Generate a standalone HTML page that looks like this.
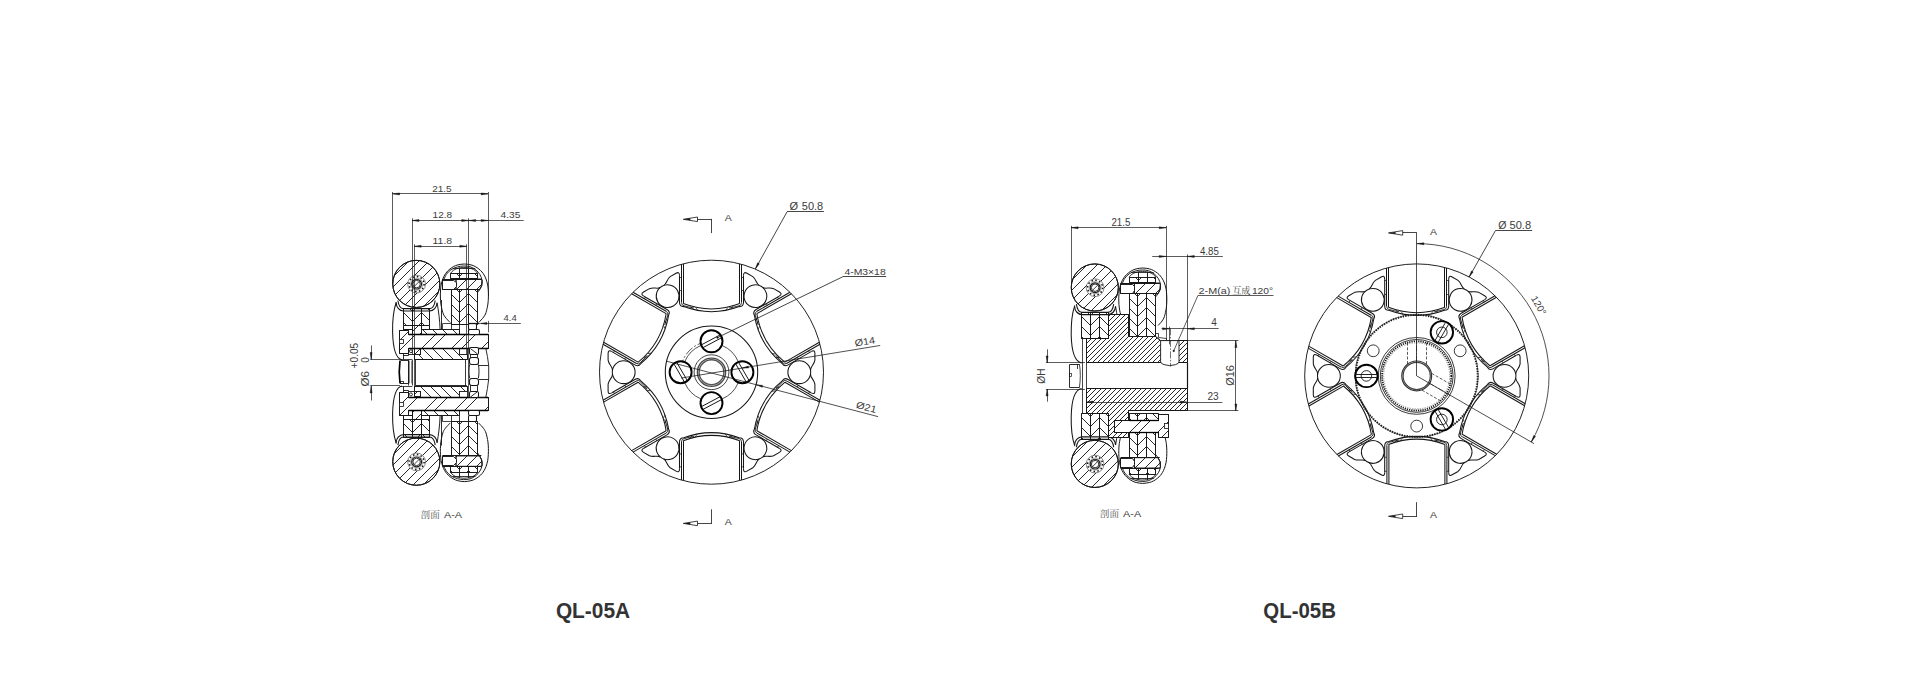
<!DOCTYPE html>
<html lang="zh"><head><meta charset="utf-8"><title>QL-05A / QL-05B</title>
<style>html,body{margin:0;padding:0;background:#fff}body{width:1920px;height:694px;overflow:hidden}svg{display:block}</style>
</head><body>
<svg width="1920" height="694" viewBox="0 0 1920 694">
<rect width="1920" height="694" fill="#fff"/>
<defs><clipPath id="c1"><path d="M403.5 308.5L412.5 308.5L412.5 325.5L403.5 325.5Z"/></clipPath><clipPath id="c2"><path d="M412.5 308.5L421.5 308.5L421.5 325.5L412.5 325.5Z"/></clipPath><clipPath id="c3"><path d="M421.5 308.5L429.5 308.5L429.5 325.5L421.5 325.5Z"/></clipPath><clipPath id="c4"><path d="M412.5 325.5L421.5 325.5L421.5 334.5L412.5 334.5Z"/></clipPath><clipPath id="c5"><path d="M392.75 283.9A23.55 23.55 0 1 0 439.85 283.9A23.55 23.55 0 1 0 392.75 283.9Z"/></clipPath><clipPath id="c6"><path d="M421.5 329.5L459.5 329.5L459.5 334.5L421.5 334.5Z"/></clipPath><clipPath id="c7"><path d="M420.5 348.5L459.5 348.5L459.5 354.5L467.5 354.5L467.5 359.5L414.5 359.5L414.5 354.5L420.5 354.5Z"/></clipPath><clipPath id="c8"><path d="M414.5 348.5L420.5 348.5L420.5 354.5L414.5 354.5Z"/></clipPath><clipPath id="c9"><path d="M399.5 330.5L408.5 330.5L408.5 334.5L488.5 334.5L488.5 348.5L408.5 348.5L408.5 353.5L399.5 353.5Z"/></clipPath><clipPath id="c10"><path d="M450.5 273.5L459.5 273.5L459.5 278.5L450.5 278.5Z"/></clipPath><clipPath id="c11"><path d="M459.5 273.5L468.5 273.5L468.5 278.5L459.5 278.5Z"/></clipPath><clipPath id="c12"><path d="M468.5 273.5L477.5 273.5L477.5 278.5L468.5 278.5Z"/></clipPath><clipPath id="c13"><path d="M456 279.2L481.5 279.2L482 280.8L481.6 285.7L479.5 289.8L456 289.8Z"/></clipPath><clipPath id="c14"><path d="M451.5 289.5L459.5 289.5L459.5 324.5L451.5 324.5Z"/></clipPath><clipPath id="c15"><path d="M459.5 289.5L468.5 289.5L468.5 324.5L459.5 324.5Z"/></clipPath><clipPath id="c16"><path d="M468.5 289.5L477.5 289.5L477.5 324.5L468.5 324.5Z"/></clipPath><clipPath id="c17"><path d="M403.5 419.5L412.5 419.5L412.5 437.5L403.5 437.5Z"/></clipPath><clipPath id="c18"><path d="M412.5 419.5L421.5 419.5L421.5 437.5L412.5 437.5Z"/></clipPath><clipPath id="c19"><path d="M421.5 419.5L429.5 419.5L429.5 437.5L421.5 437.5Z"/></clipPath><clipPath id="c20"><path d="M412.5 419.5L421.5 419.5L421.5 410.5L412.5 410.5Z"/></clipPath><clipPath id="c21"><path d="M392.75 461.7A23.55 23.55 0 1 0 439.85 461.7A23.55 23.55 0 1 0 392.75 461.7Z"/></clipPath><clipPath id="c22"><path d="M421.5 415.5L459.5 415.5L459.5 410.5L421.5 410.5Z"/></clipPath><clipPath id="c23"><path d="M420.5 397.5L459.5 397.5L459.5 391.5L467.5 391.5L467.5 386.5L414.5 386.5L414.5 391.5L420.5 391.5Z"/></clipPath><clipPath id="c24"><path d="M414.5 396.5L420.5 396.5L420.5 391.5L414.5 391.5Z"/></clipPath><clipPath id="c25"><path d="M399.5 415.5L408.5 415.5L408.5 410.5L488.5 410.5L488.5 397.5L408.5 397.5L408.5 392.5L399.5 392.5Z"/></clipPath><clipPath id="c26"><path d="M450.5 466.5L459.5 466.5L459.5 472.5L450.5 472.5Z"/></clipPath><clipPath id="c27"><path d="M459.5 466.5L468.5 466.5L468.5 472.5L459.5 472.5Z"/></clipPath><clipPath id="c28"><path d="M468.5 466.5L477.5 466.5L477.5 472.5L468.5 472.5Z"/></clipPath><clipPath id="c29"><path d="M456 466.4L481.5 466.4L482 464.8L481.6 459.9L479.5 455.8L456 455.8Z"/></clipPath><clipPath id="c30"><path d="M451.5 421.5L459.5 421.5L459.5 455.5L451.5 455.5Z"/></clipPath><clipPath id="c31"><path d="M459.5 421.5L468.5 421.5L468.5 455.5L459.5 455.5Z"/></clipPath><clipPath id="c32"><path d="M468.5 421.5L477.5 421.5L477.5 455.5L468.5 455.5Z"/></clipPath><clipPath id="c33"><path d="M1081.5 312.5L1090.5 312.5L1090.5 338.5L1081.5 338.5Z"/></clipPath><clipPath id="c34"><path d="M1090.5 312.5L1099.5 312.5L1099.5 338.5L1090.5 338.5Z"/></clipPath><clipPath id="c35"><path d="M1099.5 312.5L1108.5 312.5L1108.5 338.5L1099.5 338.5Z"/></clipPath><clipPath id="c36"><path d="M1071.25 287.5A23.55 23.55 0 1 0 1118.35 287.5A23.55 23.55 0 1 0 1071.25 287.5Z"/></clipPath><clipPath id="c37"><path d="M1081.5 413.5L1090.5 413.5L1090.5 439.5L1081.5 439.5Z"/></clipPath><clipPath id="c38"><path d="M1090.5 413.5L1099.5 413.5L1099.5 439.5L1090.5 439.5Z"/></clipPath><clipPath id="c39"><path d="M1099.5 413.5L1108.5 413.5L1108.5 439.5L1099.5 439.5Z"/></clipPath><clipPath id="c40"><path d="M1071.25 463.9A23.55 23.55 0 1 0 1118.35 463.9A23.55 23.55 0 1 0 1071.25 463.9Z"/></clipPath><clipPath id="c41"><path d="M1129.5 277.5L1138.5 277.5L1138.5 282.5L1129.5 282.5Z"/></clipPath><clipPath id="c42"><path d="M1138.5 277.5L1147.5 277.5L1147.5 282.5L1138.5 282.5Z"/></clipPath><clipPath id="c43"><path d="M1147.5 277.5L1155.5 277.5L1155.5 282.5L1147.5 282.5Z"/></clipPath><clipPath id="c44"><path d="M1134.4 283.2L1159.9 283.2L1160.4 284.8L1160 289.7L1157.9 293.8L1134.4 293.8Z"/></clipPath><clipPath id="c45"><path d="M1129.5 468.5L1138.5 468.5L1138.5 474.5L1129.5 474.5Z"/></clipPath><clipPath id="c46"><path d="M1138.5 468.5L1147.5 468.5L1147.5 474.5L1138.5 474.5Z"/></clipPath><clipPath id="c47"><path d="M1147.5 468.5L1155.5 468.5L1155.5 474.5L1147.5 474.5Z"/></clipPath><clipPath id="c48"><path d="M1134.4 468.2L1159.9 468.2L1160.4 466.6L1160 461.7L1157.9 457.6L1134.4 457.6Z"/></clipPath><clipPath id="c49"><path d="M1086.5 362.5L1086.5 338.5L1108.5 338.5L1108.5 314.5L1128.5 314.5L1128.5 336.5L1155.5 336.5L1160.5 340.5L1187.5 340.5L1187.5 362.5Z"/></clipPath><clipPath id="c50"><path d="M1086.5 388.5L1086.5 413.5L1108.5 413.5L1108.5 437.5L1128.5 437.5L1128.5 410.5L1187.5 410.5L1187.5 388.5Z"/></clipPath><clipPath id="c51"><path d="M1129.5 293.5L1137.5 293.5L1137.5 336.5L1129.5 336.5Z"/></clipPath><clipPath id="c52"><path d="M1137.5 293.5L1146.5 293.5L1146.5 336.5L1137.5 336.5Z"/></clipPath><clipPath id="c53"><path d="M1146.5 293.5L1155.5 293.5L1155.5 336.5L1146.5 336.5Z"/></clipPath><clipPath id="c54"><path d="M1129.5 432.5L1137.5 432.5L1137.5 457.5L1129.5 457.5Z"/></clipPath><clipPath id="c55"><path d="M1137.5 432.5L1146.5 432.5L1146.5 457.5L1137.5 457.5Z"/></clipPath><clipPath id="c56"><path d="M1146.5 432.5L1155.5 432.5L1155.5 457.5L1146.5 457.5Z"/></clipPath><clipPath id="c57"><path d="M1129.5 413.5L1137.5 413.5L1137.5 420.5L1129.5 420.5Z"/></clipPath><clipPath id="c58"><path d="M1137.5 413.5L1146.5 413.5L1146.5 420.5L1137.5 420.5Z"/></clipPath><clipPath id="c59"><path d="M1146.5 413.5L1158.5 413.5L1158.5 420.5L1146.5 420.5Z"/></clipPath><clipPath id="c60"><path d="M1114.5 420.5L1158.5 420.5L1158.5 414.5L1168.5 414.5L1168.5 437.5L1158.5 437.5L1158.5 432.5L1114.5 432.5Z"/></clipPath></defs>
<path d="M396.3 302C393.6 310 392.4 322 392.6 332C392.9 345 395 358.5 402 359.7" fill="none" stroke="#161616" stroke-width="1.05"/>
<path d="M403.5 308.5L412.5 308.5L412.5 325.5L403.5 325.5Z" fill="#fff" stroke="#161616" stroke-width="0.85"/>
<path clip-path="url(#c1)" d="M402.5 301.5L413.5 312.5M402.5 311.5L413.5 322.5M402.5 321.5L413.5 332.5" fill="none" stroke="#161616" stroke-width="0.92"/>
<path d="M403.5 308.5L412.5 308.5L412.5 325.5L403.5 325.5Z" fill="none" stroke="#161616" stroke-width="0.85"/>
<path d="M412.5 308.5L421.5 308.5L421.5 325.5L412.5 325.5Z" fill="#fff" stroke="#161616" stroke-width="0.85"/>
<path clip-path="url(#c2)" d="M411.5 312.5L422.5 301.5M411.5 322.5L422.5 311.5M411.5 332.5L422.5 321.5" fill="none" stroke="#161616" stroke-width="0.92"/>
<path d="M412.5 308.5L421.5 308.5L421.5 325.5L412.5 325.5Z" fill="none" stroke="#161616" stroke-width="0.85"/>
<path d="M421.5 308.5L429.5 308.5L429.5 325.5L421.5 325.5Z" fill="#fff" stroke="#161616" stroke-width="0.85"/>
<path clip-path="url(#c3)" d="M420.5 301.5L430.5 311.5M420.5 311.5L430.5 321.5M420.5 321.5L430.5 331.5" fill="none" stroke="#161616" stroke-width="0.92"/>
<path d="M421.5 308.5L429.5 308.5L429.5 325.5L421.5 325.5Z" fill="none" stroke="#161616" stroke-width="0.85"/>
<path d="M412.5 325.5L421.5 325.5L421.5 334.5L412.5 334.5Z" fill="#fff" stroke="#161616" stroke-width="0.95"/>
<path clip-path="url(#c4)" d="M411.5 332.5L422.5 321.5M411.5 342.5L422.5 331.5" fill="none" stroke="#161616" stroke-width="0.92"/>
<path d="M412.5 325.5L421.5 325.5L421.5 334.5L412.5 334.5Z" fill="none" stroke="#161616" stroke-width="0.95"/>
<line x1="403.2" y1="329.5" x2="412.2" y2="329.5" stroke="#161616" stroke-width="1.05"/>
<line x1="421.3" y1="329.5" x2="429.5" y2="329.5" stroke="#161616" stroke-width="1.05"/>
<line x1="403.5" y1="325.8" x2="403.5" y2="329.8" stroke="#161616" stroke-width="1.05"/>
<line x1="429.5" y1="325.8" x2="429.5" y2="329.8" stroke="#161616" stroke-width="1.05"/>
<path d="M396.1 302.8C396.3 307.5 399.5 311 403.6 311L429.5 311C433.5 311 436.8 307.5 437.1 302.8" fill="none" stroke="#161616" stroke-width="1.15"/>
<path d="M397.9 300.5C398.5 304.9 400.5 308.6 403.4 308.6L429.5 308.6C432.5 308.6 434.6 304.9 435.2 300.5" fill="none" stroke="#161616" stroke-width="1.1"/>
<path d="M437.1 302.8C438.5 310.9 439.8 319.9 440.1 329.8" fill="none" stroke="#161616" stroke-width="0.95"/>
<path d="M392.75 283.9A23.55 23.55 0 1 0 439.85 283.9A23.55 23.55 0 1 0 392.75 283.9Z" fill="#fff" stroke="#161616" stroke-width="1.0"/>
<path clip-path="url(#c5)" d="M391.75 268.25L440.85 219.15M391.75 278.25L440.85 229.15M391.75 288.25L440.85 239.15M391.75 298.25L440.85 249.15M391.75 308.25L440.85 259.15M391.75 318.25L440.85 269.15M391.75 328.25L440.85 279.15M391.75 338.25L440.85 289.15M391.75 348.25L440.85 299.15" fill="none" stroke="#161616" stroke-width="0.92"/>
<path d="M392.75 283.9A23.55 23.55 0 1 0 439.85 283.9A23.55 23.55 0 1 0 392.75 283.9Z" fill="none" stroke="#161616" stroke-width="1.0"/>
<circle cx="416.6" cy="284.1" r="8.9" fill="#fff" stroke="#333" stroke-width="0.55"/>
<circle cx="416.6" cy="284.1" r="7.5" fill="none" stroke="#111" stroke-width="1.5" stroke-dasharray="1.5 2.427"/>
<circle cx="416.6" cy="284.1" r="6.1" fill="none" stroke="#555" stroke-width="0.5"/>
<circle cx="416.6" cy="284.1" r="4.9" fill="#fff" stroke="#161616" stroke-width="1.15"/>
<circle cx="416.6" cy="284.1" r="3.7" fill="none" stroke="#161616" stroke-width="0.9"/>
<line x1="414.2" y1="286.5" x2="419" y2="281.7" stroke="#161616" stroke-width="0.8"/>
<path d="M421.5 329.5L459.5 329.5L459.5 334.5L421.5 334.5Z" fill="#fff" stroke="#161616" stroke-width="0.85"/>
<path clip-path="url(#c6)" d="M420.5 297.5L460.5 337.5M420.5 307.5L460.5 347.5M420.5 317.5L460.5 357.5M420.5 327.5L460.5 367.5" fill="none" stroke="#161616" stroke-width="0.92"/>
<path d="M421.5 329.5L459.5 329.5L459.5 334.5L421.5 334.5Z" fill="none" stroke="#161616" stroke-width="0.85"/>
<path d="M420.5 348.5L459.5 348.5L459.5 354.5L467.5 354.5L467.5 359.5L414.5 359.5L414.5 354.5L420.5 354.5Z" fill="#fff" stroke="#161616" stroke-width="0.85"/>
<path clip-path="url(#c7)" d="M413.5 299.5L468.5 354.5M413.5 309.5L468.5 364.5M413.5 319.5L468.5 374.5M413.5 329.5L468.5 384.5M413.5 339.5L468.5 394.5M413.5 349.5L468.5 404.5M413.5 359.5L468.5 414.5" fill="none" stroke="#161616" stroke-width="0.92"/>
<path d="M420.5 348.5L459.5 348.5L459.5 354.5L467.5 354.5L467.5 359.5L414.5 359.5L414.5 354.5L420.5 354.5Z" fill="none" stroke="#161616" stroke-width="0.85"/>
<path d="M414.5 348.5L420.5 348.5L420.5 354.5L414.5 354.5Z" fill="#fff" stroke="#161616" stroke-width="0.8"/>
<path clip-path="url(#c8)" d="M413.5 355.5L421.5 347.5" fill="none" stroke="#161616" stroke-width="0.92"/>
<path d="M414.5 348.5L420.5 348.5L420.5 354.5L414.5 354.5Z" fill="none" stroke="#161616" stroke-width="0.8"/>
<path d="M408.5 348.5L414.5 348.5L414.5 354.5L408.5 354.5Z" fill="#fff" stroke="#161616" stroke-width="0.9"/>
<circle cx="410.9" cy="351.2" r="1.5" fill="none" stroke="#161616" stroke-width="0.9"/>
<rect x="459.5" y="348.5" width="8" height="6" fill="#fff" stroke="#161616" stroke-width="0.85"/>
<path d="M399.5 330.5L408.5 330.5L408.5 334.5L488.5 334.5L488.5 348.5L408.5 348.5L408.5 353.5L399.5 353.5Z" fill="#fff" stroke="#161616" stroke-width="0.9"/>
<path clip-path="url(#c9)" d="M398.5 341.5L489.5 250.5M398.5 351.5L489.5 260.5M398.5 371.5L489.5 280.5M398.5 381.5L489.5 290.5M398.5 401.5L489.5 310.5M398.5 411.5L489.5 320.5M398.5 431.5L489.5 340.5M398.5 441.5L489.5 350.5" fill="none" stroke="#161616" stroke-width="0.92"/>
<path d="M399.5 330.5L408.5 330.5L408.5 334.5L488.5 334.5L488.5 348.5L408.5 348.5L408.5 353.5L399.5 353.5Z" fill="none" stroke="#161616" stroke-width="0.9"/>
<line x1="408.7" y1="334.5" x2="488.2" y2="334.5" stroke="#000" stroke-width="1.5"/>
<line x1="408.7" y1="348.5" x2="488.2" y2="348.5" stroke="#000" stroke-width="1.5"/>
<rect x="399.5" y="339.5" width="4" height="4" fill="#fff" stroke="#161616" stroke-width="0.8"/>
<path d="M403.5 353.5L403.5 359.5" fill="none" stroke="#161616" stroke-width="0.9"/>
<path d="M403.5 355.5L408.5 355.5L408.5 353.5" fill="none" stroke="#161616" stroke-width="0.9"/>
<line x1="400" y1="359.5" x2="412.2" y2="359.5" stroke="#161616" stroke-width="0.8"/>
<path d="M450.1 322.5C449.7 322.08 448.53 320.92 447.7 320C446.87 319.08 445.92 318.23 445.1 317C444.28 315.77 443.5 314.77 442.8 312.6C442.1 310.43 441.3 306.6 440.9 304C440.5 301.4 440.47 299.17 440.4 297C440.33 294.83 440.38 293 440.5 291C440.62 289 440.72 287 441.1 285C441.48 283 442.2 280.67 442.8 279C443.4 277.33 444.03 276.17 444.7 275C445.37 273.83 445.93 273 446.8 272C447.67 271 448.75 269.92 449.9 269C451.05 268.08 452.38 267.18 453.7 266.5C455.02 265.82 456.03 265.32 457.8 264.9C459.57 264.48 462.1 264 464.3 264C466.5 264 469.2 264.48 471 264.9C472.8 265.32 473.78 265.82 475.1 266.5C476.42 267.18 477.75 268.08 478.9 269C480.05 269.92 481.13 271 482 272C482.87 273 483.43 273.83 484.1 275C484.77 276.17 485.4 277.33 486 279C486.6 280.67 487.32 283 487.7 285C488.08 287 488.18 289 488.3 291C488.42 293 488.47 294.83 488.4 297C488.33 299.17 488.3 301.4 487.9 304C487.5 306.6 486.7 310.43 486 312.6C485.3 314.77 484.52 315.77 483.7 317C482.88 318.23 481.93 319.08 481.1 320C480.27 320.92 479.1 322.08 478.7 322.5" fill="none" stroke="#161616" stroke-width="1.0"/>
<path d="M444.1 279C444.5 278.2 445.35 275.75 446.5 274.2C447.65 272.65 449.17 270.92 451 269.7C452.83 268.48 455.38 267.52 457.5 266.9C459.62 266.28 461.62 266.03 463.7 266C465.78 265.97 467.98 266.05 470 266.7C472.02 267.35 474.13 268.57 475.8 269.9C477.47 271.23 478.97 272.98 480 274.7C481.03 276.42 481.73 278.37 482 280.2C482.27 282.03 482.07 284.03 481.6 285.7C481.13 287.37 479.87 289.05 479.2 290.2C478.53 291.35 477.87 292.2 477.6 292.6" fill="none" stroke="#161616" stroke-width="0.95"/>
<path d="M450.5 273.5L459.5 273.5L459.5 278.5L450.5 278.5Z" fill="#fff" stroke="#161616" stroke-width="0.85"/>
<path clip-path="url(#c10)" d="M449.5 266.5L460.5 277.5M449.5 276.5L460.5 287.5" fill="none" stroke="#161616" stroke-width="0.92"/>
<path d="M450.5 273.5L459.5 273.5L459.5 278.5L450.5 278.5Z" fill="none" stroke="#161616" stroke-width="0.85"/>
<path d="M459.5 273.5L468.5 273.5L468.5 278.5L459.5 278.5Z" fill="#fff" stroke="#161616" stroke-width="0.85"/>
<path clip-path="url(#c11)" d="M458.5 277.5L469.5 266.5M458.5 287.5L469.5 276.5" fill="none" stroke="#161616" stroke-width="0.92"/>
<path d="M459.5 273.5L468.5 273.5L468.5 278.5L459.5 278.5Z" fill="none" stroke="#161616" stroke-width="0.85"/>
<path d="M468.5 273.5L477.5 273.5L477.5 278.5L468.5 278.5Z" fill="#fff" stroke="#161616" stroke-width="0.85"/>
<path clip-path="url(#c12)" d="M467.5 266.5L478.5 277.5M467.5 276.5L478.5 287.5" fill="none" stroke="#161616" stroke-width="0.92"/>
<path d="M468.5 273.5L477.5 273.5L477.5 278.5L468.5 278.5Z" fill="none" stroke="#161616" stroke-width="0.85"/>
<path d="M450.7 273.2C453.3 269 459.3 267.4 464 267.4C469.3 267.4 474.8 269 477.5 273.2" fill="none" stroke="#161616" stroke-width="0.9"/>
<line x1="452.8" y1="268.5" x2="475.3" y2="268.5" stroke="#161616" stroke-width="0.85"/>
<line x1="459.5" y1="267.8" x2="459.5" y2="273.2" stroke="#161616" stroke-width="0.95"/>
<line x1="468.5" y1="267.8" x2="468.5" y2="273.2" stroke="#161616" stroke-width="0.95"/>
<path d="M456 279.2L481.5 279.2L482 280.8L481.6 285.7L479.5 289.8L456 289.8Z" fill="#fff" stroke="#161616" stroke-width="0.9"/>
<path clip-path="url(#c13)" d="M455 281L483 253M455 291L483 263M455 301L483 273M455 311L483 283" fill="none" stroke="#161616" stroke-width="0.92"/>
<path d="M456 279.2L481.5 279.2L482 280.8L481.6 285.7L479.5 289.8L456 289.8Z" fill="none" stroke="#161616" stroke-width="0.9"/>
<path d="M442.5 280.5L453.5 280.5L456.5 282.5L456.5 286.5L453.5 289.5L442.5 289.5Z" fill="#fff" stroke="#161616" stroke-width="0.95"/>
<line x1="442.4" y1="279.5" x2="481.3" y2="279.5" stroke="#161616" stroke-width="1.05"/>
<line x1="442.4" y1="289.5" x2="479.7" y2="289.5" stroke="#161616" stroke-width="1.05"/>
<line x1="442.5" y1="279.2" x2="442.5" y2="289.8" stroke="#161616" stroke-width="0.9"/>
<path d="M451.5 289.5L459.5 289.5L459.5 324.5L451.5 324.5Z" fill="#fff" stroke="#161616" stroke-width="0.85"/>
<path clip-path="url(#c14)" d="M450.5 283.5L460.5 293.5M450.5 293.5L460.5 303.5M450.5 303.5L460.5 313.5M450.5 313.5L460.5 323.5M450.5 323.5L460.5 333.5" fill="none" stroke="#161616" stroke-width="0.92"/>
<path d="M451.5 289.5L459.5 289.5L459.5 324.5L451.5 324.5Z" fill="none" stroke="#161616" stroke-width="0.85"/>
<path d="M459.5 289.5L468.5 289.5L468.5 324.5L459.5 324.5Z" fill="#fff" stroke="#161616" stroke-width="0.85"/>
<path clip-path="url(#c15)" d="M458.5 293.5L469.5 282.5M458.5 303.5L469.5 292.5M458.5 313.5L469.5 302.5M458.5 323.5L469.5 312.5M458.5 333.5L469.5 322.5" fill="none" stroke="#161616" stroke-width="0.92"/>
<path d="M459.5 289.5L468.5 289.5L468.5 324.5L459.5 324.5Z" fill="none" stroke="#161616" stroke-width="0.85"/>
<path d="M468.5 289.5L477.5 289.5L477.5 324.5L468.5 324.5Z" fill="#fff" stroke="#161616" stroke-width="0.85"/>
<path clip-path="url(#c16)" d="M467.5 282.5L478.5 293.5M467.5 292.5L478.5 303.5M467.5 302.5L478.5 313.5M467.5 312.5L478.5 323.5M467.5 322.5L478.5 333.5" fill="none" stroke="#161616" stroke-width="0.92"/>
<path d="M468.5 289.5L477.5 289.5L477.5 324.5L468.5 324.5Z" fill="none" stroke="#161616" stroke-width="0.85"/>
<line x1="441.5" y1="300" x2="441.5" y2="329.8" stroke="#161616" stroke-width="0.9"/>
<path d="M442.5 329.5L442.5 323.5L451.5 323.5" fill="none" stroke="#161616" stroke-width="0.8"/>
<line x1="459.5" y1="324" x2="459.5" y2="329.8" stroke="#161616" stroke-width="0.85"/>
<line x1="451.5" y1="324" x2="451.5" y2="329.8" stroke="#161616" stroke-width="0.85"/>
<rect x="468.5" y="323.5" width="8" height="6" rx="1.2" fill="#fff" stroke="#161616" stroke-width="1.05"/>
<rect x="468.5" y="329.5" width="11" height="5" rx="1.6" fill="#fff" stroke="#161616" stroke-width="1.05"/>
<rect x="469.5" y="347.5" width="9" height="7" rx="1.6" fill="#fff" stroke="#161616" stroke-width="1.05"/>
<line x1="470.5" y1="348.6" x2="477" y2="353.6" stroke="#161616" stroke-width="0.9"/>
<path d="M396.3 443.6C393.6 435.6 392.4 423.6 392.6 413.6C392.9 400.6 395 387.1 402 385.9" fill="none" stroke="#161616" stroke-width="1.05"/>
<path d="M403.5 419.5L412.5 419.5L412.5 437.5L403.5 437.5Z" fill="#fff" stroke="#161616" stroke-width="0.85"/>
<path clip-path="url(#c17)" d="M402.5 412.5L413.5 423.5M402.5 422.5L413.5 433.5M402.5 432.5L413.5 443.5" fill="none" stroke="#161616" stroke-width="0.92"/>
<path d="M403.5 419.5L412.5 419.5L412.5 437.5L403.5 437.5Z" fill="none" stroke="#161616" stroke-width="0.85"/>
<path d="M412.5 419.5L421.5 419.5L421.5 437.5L412.5 437.5Z" fill="#fff" stroke="#161616" stroke-width="0.85"/>
<path clip-path="url(#c18)" d="M411.5 423.5L422.5 412.5M411.5 433.5L422.5 422.5M411.5 443.5L422.5 432.5" fill="none" stroke="#161616" stroke-width="0.92"/>
<path d="M412.5 419.5L421.5 419.5L421.5 437.5L412.5 437.5Z" fill="none" stroke="#161616" stroke-width="0.85"/>
<path d="M421.5 419.5L429.5 419.5L429.5 437.5L421.5 437.5Z" fill="#fff" stroke="#161616" stroke-width="0.85"/>
<path clip-path="url(#c19)" d="M420.5 412.5L430.5 422.5M420.5 422.5L430.5 432.5M420.5 432.5L430.5 442.5" fill="none" stroke="#161616" stroke-width="0.92"/>
<path d="M421.5 419.5L429.5 419.5L429.5 437.5L421.5 437.5Z" fill="none" stroke="#161616" stroke-width="0.85"/>
<path d="M412.5 419.5L421.5 419.5L421.5 410.5L412.5 410.5Z" fill="#fff" stroke="#161616" stroke-width="0.95"/>
<path clip-path="url(#c20)" d="M411.5 413.5L422.5 402.5M411.5 423.5L422.5 412.5" fill="none" stroke="#161616" stroke-width="0.92"/>
<path d="M412.5 419.5L421.5 419.5L421.5 410.5L412.5 410.5Z" fill="none" stroke="#161616" stroke-width="0.95"/>
<line x1="403.2" y1="415.5" x2="412.2" y2="415.5" stroke="#161616" stroke-width="1.05"/>
<line x1="421.3" y1="415.5" x2="429.5" y2="415.5" stroke="#161616" stroke-width="1.05"/>
<line x1="403.5" y1="419.8" x2="403.5" y2="415.8" stroke="#161616" stroke-width="1.05"/>
<line x1="429.5" y1="419.8" x2="429.5" y2="415.8" stroke="#161616" stroke-width="1.05"/>
<path d="M396.1 442.8C396.3 438.1 399.5 434.6 403.6 434.6L429.5 434.6C433.5 434.6 436.8 438.1 437.1 442.8" fill="none" stroke="#161616" stroke-width="1.15"/>
<path d="M397.9 445.1C398.5 440.7 400.5 437 403.4 437L429.5 437C432.5 437 434.6 440.7 435.2 445.1" fill="none" stroke="#161616" stroke-width="1.1"/>
<path d="M437.1 442.8C438.5 434.7 439.8 425.7 440.1 415.8" fill="none" stroke="#161616" stroke-width="0.95"/>
<path d="M392.75 461.7A23.55 23.55 0 1 0 439.85 461.7A23.55 23.55 0 1 0 392.75 461.7Z" fill="#fff" stroke="#161616" stroke-width="1.0"/>
<path clip-path="url(#c21)" d="M391.75 446.25L440.85 397.15M391.75 456.25L440.85 407.15M391.75 466.25L440.85 417.15M391.75 476.25L440.85 427.15M391.75 486.25L440.85 437.15M391.75 496.25L440.85 447.15M391.75 506.25L440.85 457.15M391.75 516.25L440.85 467.15M391.75 526.25L440.85 477.15" fill="none" stroke="#161616" stroke-width="0.92"/>
<path d="M392.75 461.7A23.55 23.55 0 1 0 439.85 461.7A23.55 23.55 0 1 0 392.75 461.7Z" fill="none" stroke="#161616" stroke-width="1.0"/>
<circle cx="416.6" cy="461.9" r="8.9" fill="#fff" stroke="#333" stroke-width="0.55"/>
<circle cx="416.6" cy="461.9" r="7.5" fill="none" stroke="#111" stroke-width="1.5" stroke-dasharray="1.5 2.427"/>
<circle cx="416.6" cy="461.9" r="6.1" fill="none" stroke="#555" stroke-width="0.5"/>
<circle cx="416.6" cy="461.9" r="4.9" fill="#fff" stroke="#161616" stroke-width="1.15"/>
<circle cx="416.6" cy="461.9" r="3.7" fill="none" stroke="#161616" stroke-width="0.9"/>
<line x1="414.2" y1="464.3" x2="419" y2="459.5" stroke="#161616" stroke-width="0.8"/>
<path d="M421.5 415.5L459.5 415.5L459.5 410.5L421.5 410.5Z" fill="#fff" stroke="#161616" stroke-width="0.85"/>
<path clip-path="url(#c22)" d="M420.5 377.5L460.5 417.5M420.5 387.5L460.5 427.5M420.5 397.5L460.5 437.5M420.5 407.5L460.5 447.5" fill="none" stroke="#161616" stroke-width="0.92"/>
<path d="M421.5 415.5L459.5 415.5L459.5 410.5L421.5 410.5Z" fill="none" stroke="#161616" stroke-width="0.85"/>
<path d="M420.5 397.5L459.5 397.5L459.5 391.5L467.5 391.5L467.5 386.5L414.5 386.5L414.5 391.5L420.5 391.5Z" fill="#fff" stroke="#161616" stroke-width="0.85"/>
<path clip-path="url(#c23)" d="M413.5 339.5L468.5 394.5M413.5 349.5L468.5 404.5M413.5 359.5L468.5 414.5M413.5 369.5L468.5 424.5M413.5 379.5L468.5 434.5M413.5 389.5L468.5 444.5" fill="none" stroke="#161616" stroke-width="0.92"/>
<path d="M420.5 397.5L459.5 397.5L459.5 391.5L467.5 391.5L467.5 386.5L414.5 386.5L414.5 391.5L420.5 391.5Z" fill="none" stroke="#161616" stroke-width="0.85"/>
<path d="M414.5 396.5L420.5 396.5L420.5 391.5L414.5 391.5Z" fill="#fff" stroke="#161616" stroke-width="0.8"/>
<path clip-path="url(#c24)" d="M413.5 395.5L421.5 387.5" fill="none" stroke="#161616" stroke-width="0.92"/>
<path d="M414.5 396.5L420.5 396.5L420.5 391.5L414.5 391.5Z" fill="none" stroke="#161616" stroke-width="0.8"/>
<path d="M408.5 397.5L414.5 397.5L414.5 391.5L408.5 391.5Z" fill="#fff" stroke="#161616" stroke-width="0.9"/>
<circle cx="410.9" cy="394.4" r="1.5" fill="none" stroke="#161616" stroke-width="0.9"/>
<rect x="459.5" y="391.5" width="8" height="6" fill="#fff" stroke="#161616" stroke-width="0.85"/>
<path d="M399.5 415.5L408.5 415.5L408.5 410.5L488.5 410.5L488.5 397.5L408.5 397.5L408.5 392.5L399.5 392.5Z" fill="#fff" stroke="#161616" stroke-width="0.9"/>
<path clip-path="url(#c25)" d="M398.5 406.5L489.5 315.5M398.5 416.5L489.5 325.5M398.5 436.5L489.5 345.5M398.5 446.5L489.5 355.5M398.5 466.5L489.5 375.5M398.5 476.5L489.5 385.5M398.5 496.5L489.5 405.5M398.5 506.5L489.5 415.5" fill="none" stroke="#161616" stroke-width="0.92"/>
<path d="M399.5 415.5L408.5 415.5L408.5 410.5L488.5 410.5L488.5 397.5L408.5 397.5L408.5 392.5L399.5 392.5Z" fill="none" stroke="#161616" stroke-width="0.9"/>
<line x1="408.7" y1="410.5" x2="488.2" y2="410.5" stroke="#000" stroke-width="1.5"/>
<line x1="408.7" y1="397.5" x2="488.2" y2="397.5" stroke="#000" stroke-width="1.5"/>
<rect x="399.5" y="402.5" width="4" height="4" fill="#fff" stroke="#161616" stroke-width="0.8"/>
<path d="M403.5 392.5L403.5 386.5" fill="none" stroke="#161616" stroke-width="0.9"/>
<path d="M403.5 390.5L408.5 390.5L408.5 392.5" fill="none" stroke="#161616" stroke-width="0.9"/>
<line x1="400" y1="386.5" x2="412.2" y2="386.5" stroke="#161616" stroke-width="0.8"/>
<path d="M450.1 423.1C449.7 423.52 448.53 424.68 447.7 425.6C446.87 426.52 445.92 427.37 445.1 428.6C444.28 429.83 443.5 430.83 442.8 433C442.1 435.17 441.3 439 440.9 441.6C440.5 444.2 440.47 446.43 440.4 448.6C440.33 450.77 440.38 452.6 440.5 454.6C440.62 456.6 440.72 458.6 441.1 460.6C441.48 462.6 442.2 464.93 442.8 466.6C443.4 468.27 444.03 469.43 444.7 470.6C445.37 471.77 445.93 472.6 446.8 473.6C447.67 474.6 448.75 475.68 449.9 476.6C451.05 477.52 452.38 478.42 453.7 479.1C455.02 479.78 456.03 480.28 457.8 480.7C459.57 481.12 462.1 481.6 464.3 481.6C466.5 481.6 469.2 481.12 471 480.7C472.8 480.28 473.78 479.78 475.1 479.1C476.42 478.42 477.75 477.52 478.9 476.6C480.05 475.68 481.13 474.6 482 473.6C482.87 472.6 483.43 471.77 484.1 470.6C484.77 469.43 485.4 468.27 486 466.6C486.6 464.93 487.32 462.6 487.7 460.6C488.08 458.6 488.18 456.6 488.3 454.6C488.42 452.6 488.47 450.77 488.4 448.6C488.33 446.43 488.3 444.2 487.9 441.6C487.5 439 486.7 435.17 486 433C485.3 430.83 484.52 429.83 483.7 428.6C482.88 427.37 481.93 426.52 481.1 425.6C480.27 424.68 479.1 423.52 478.7 423.1" fill="none" stroke="#161616" stroke-width="1.0"/>
<path d="M444.1 466.6C444.5 467.4 445.35 469.85 446.5 471.4C447.65 472.95 449.17 474.68 451 475.9C452.83 477.12 455.38 478.08 457.5 478.7C459.62 479.32 461.62 479.57 463.7 479.6C465.78 479.63 467.98 479.55 470 478.9C472.02 478.25 474.13 477.03 475.8 475.7C477.47 474.37 478.97 472.62 480 470.9C481.03 469.18 481.73 467.23 482 465.4C482.27 463.57 482.07 461.57 481.6 459.9C481.13 458.23 479.87 456.55 479.2 455.4C478.53 454.25 477.87 453.4 477.6 453" fill="none" stroke="#161616" stroke-width="0.95"/>
<path d="M450.5 466.5L459.5 466.5L459.5 472.5L450.5 472.5Z" fill="#fff" stroke="#161616" stroke-width="0.85"/>
<path clip-path="url(#c26)" d="M449.5 459.5L460.5 470.5M449.5 469.5L460.5 480.5" fill="none" stroke="#161616" stroke-width="0.92"/>
<path d="M450.5 466.5L459.5 466.5L459.5 472.5L450.5 472.5Z" fill="none" stroke="#161616" stroke-width="0.85"/>
<path d="M459.5 466.5L468.5 466.5L468.5 472.5L459.5 472.5Z" fill="#fff" stroke="#161616" stroke-width="0.85"/>
<path clip-path="url(#c27)" d="M458.5 470.5L469.5 459.5M458.5 480.5L469.5 469.5" fill="none" stroke="#161616" stroke-width="0.92"/>
<path d="M459.5 466.5L468.5 466.5L468.5 472.5L459.5 472.5Z" fill="none" stroke="#161616" stroke-width="0.85"/>
<path d="M468.5 466.5L477.5 466.5L477.5 472.5L468.5 472.5Z" fill="#fff" stroke="#161616" stroke-width="0.85"/>
<path clip-path="url(#c28)" d="M467.5 459.5L478.5 470.5M467.5 469.5L478.5 480.5" fill="none" stroke="#161616" stroke-width="0.92"/>
<path d="M468.5 466.5L477.5 466.5L477.5 472.5L468.5 472.5Z" fill="none" stroke="#161616" stroke-width="0.85"/>
<path d="M450.7 472.4C453.3 476.6 459.3 478.2 464 478.2C469.3 478.2 474.8 476.6 477.5 472.4" fill="none" stroke="#161616" stroke-width="0.9"/>
<line x1="452.8" y1="476.5" x2="475.3" y2="476.5" stroke="#161616" stroke-width="0.85"/>
<line x1="459.5" y1="477.8" x2="459.5" y2="472.4" stroke="#161616" stroke-width="0.95"/>
<line x1="468.5" y1="477.8" x2="468.5" y2="472.4" stroke="#161616" stroke-width="0.95"/>
<path d="M456 466.4L481.5 466.4L482 464.8L481.6 459.9L479.5 455.8L456 455.8Z" fill="#fff" stroke="#161616" stroke-width="0.9"/>
<path clip-path="url(#c29)" d="M455 458L483 430M455 468L483 440M455 478L483 450M455 488L483 460" fill="none" stroke="#161616" stroke-width="0.92"/>
<path d="M456 466.4L481.5 466.4L482 464.8L481.6 459.9L479.5 455.8L456 455.8Z" fill="none" stroke="#161616" stroke-width="0.9"/>
<path d="M442.5 456.5L453.5 456.5L456.5 459.5L456.5 462.5L453.5 465.5L442.5 465.5Z" fill="#fff" stroke="#161616" stroke-width="0.95"/>
<line x1="442.4" y1="455.5" x2="481.3" y2="455.5" stroke="#161616" stroke-width="1.05"/>
<line x1="442.4" y1="466.5" x2="479.7" y2="466.5" stroke="#161616" stroke-width="1.05"/>
<line x1="442.5" y1="455.8" x2="442.5" y2="466.4" stroke="#161616" stroke-width="0.9"/>
<path d="M451.5 421.5L459.5 421.5L459.5 455.5L451.5 455.5Z" fill="#fff" stroke="#161616" stroke-width="0.85"/>
<path clip-path="url(#c30)" d="M450.5 415.5L460.5 425.5M450.5 425.5L460.5 435.5M450.5 435.5L460.5 445.5M450.5 445.5L460.5 455.5M450.5 455.5L460.5 465.5" fill="none" stroke="#161616" stroke-width="0.92"/>
<path d="M451.5 421.5L459.5 421.5L459.5 455.5L451.5 455.5Z" fill="none" stroke="#161616" stroke-width="0.85"/>
<path d="M459.5 421.5L468.5 421.5L468.5 455.5L459.5 455.5Z" fill="#fff" stroke="#161616" stroke-width="0.85"/>
<path clip-path="url(#c31)" d="M458.5 425.5L469.5 414.5M458.5 435.5L469.5 424.5M458.5 445.5L469.5 434.5M458.5 455.5L469.5 444.5M458.5 465.5L469.5 454.5" fill="none" stroke="#161616" stroke-width="0.92"/>
<path d="M459.5 421.5L468.5 421.5L468.5 455.5L459.5 455.5Z" fill="none" stroke="#161616" stroke-width="0.85"/>
<path d="M468.5 421.5L477.5 421.5L477.5 455.5L468.5 455.5Z" fill="#fff" stroke="#161616" stroke-width="0.85"/>
<path clip-path="url(#c32)" d="M467.5 414.5L478.5 425.5M467.5 424.5L478.5 435.5M467.5 434.5L478.5 445.5M467.5 444.5L478.5 455.5M467.5 454.5L478.5 465.5" fill="none" stroke="#161616" stroke-width="0.92"/>
<path d="M468.5 421.5L477.5 421.5L477.5 455.5L468.5 455.5Z" fill="none" stroke="#161616" stroke-width="0.85"/>
<line x1="441.5" y1="445.6" x2="441.5" y2="415.8" stroke="#161616" stroke-width="0.9"/>
<path d="M442.5 415.5L442.5 421.5L451.5 421.5" fill="none" stroke="#161616" stroke-width="0.8"/>
<line x1="459.5" y1="421.6" x2="459.5" y2="415.8" stroke="#161616" stroke-width="0.85"/>
<line x1="451.5" y1="421.6" x2="451.5" y2="415.8" stroke="#161616" stroke-width="0.85"/>
<rect x="468.5" y="415.5" width="8" height="6" rx="1.2" fill="#fff" stroke="#161616" stroke-width="1.05"/>
<rect x="468.5" y="410.5" width="11" height="5" rx="1.6" fill="#fff" stroke="#161616" stroke-width="1.05"/>
<rect x="469.5" y="391.5" width="9" height="6" rx="1.6" fill="#fff" stroke="#161616" stroke-width="1.05"/>
<line x1="470.5" y1="397" x2="477" y2="392" stroke="#161616" stroke-width="0.9"/>
<line x1="415.3" y1="359.5" x2="466.8" y2="359.5" stroke="#161616" stroke-width="0.9"/>
<line x1="415.3" y1="385.5" x2="466.8" y2="385.5" stroke="#161616" stroke-width="0.9"/>
<line x1="415.5" y1="359.6" x2="415.5" y2="385.6" stroke="#161616" stroke-width="0.85"/>
<line x1="465.5" y1="359.6" x2="465.5" y2="385.6" stroke="#161616" stroke-width="0.85"/>
<path d="M400.0 360.7C399.0 368 399.0 376 400.0 383.4" fill="none" stroke="#000" stroke-width="1.7"/>
<path d="M400.5 360.5L408.5 360.5L408.5 383.5L400.5 383.5" fill="none" stroke="#161616" stroke-width="0.9"/>
<rect x="400.5" y="381.5" width="3" height="2" fill="none" stroke="#161616" stroke-width="0.8"/>
<line x1="408.5" y1="359.6" x2="408.5" y2="385.6" stroke="#161616" stroke-width="0.8"/>
<line x1="409.5" y1="360.7" x2="409.5" y2="383.4" stroke="#777" stroke-width="0.8"/>
<line x1="411.5" y1="360.7" x2="411.5" y2="383.4" stroke="#777" stroke-width="0.8"/>
<line x1="412.5" y1="359.6" x2="412.5" y2="385.6" stroke="#161616" stroke-width="0.8"/>
<rect x="469.5" y="357.5" width="9" height="7" rx="2.2" fill="#fff" stroke="#161616" stroke-width="1.05"/>
<rect x="469.5" y="378.5" width="9" height="7" rx="2.2" fill="#fff" stroke="#161616" stroke-width="1.05"/>
<path d="M469.6 364.4C468.8 369 468.8 374 469.6 378.2" fill="none" stroke="#161616" stroke-width="0.95"/>
<path d="M478.4 364.4C479.2 369 479.2 374 478.4 378.2" fill="none" stroke="#161616" stroke-width="0.95"/>
<line x1="470.5" y1="354.1" x2="470.5" y2="357.7" stroke="#161616" stroke-width="0.9"/>
<line x1="477.5" y1="354.1" x2="477.5" y2="357.7" stroke="#161616" stroke-width="0.9"/>
<line x1="470.5" y1="385.4" x2="470.5" y2="391.4" stroke="#161616" stroke-width="0.9"/>
<line x1="477.5" y1="385.4" x2="477.5" y2="391.4" stroke="#161616" stroke-width="0.9"/>
<path d="M485.8 348.4Q487.6 356 488.7 365.4L488.7 379Q487.6 389 485.8 397.2" fill="none" stroke="#161616" stroke-width="0.9"/>
<line x1="479" y1="365.5" x2="488.7" y2="365.5" stroke="#161616" stroke-width="0.9"/>
<line x1="479" y1="379.5" x2="488.7" y2="379.5" stroke="#161616" stroke-width="0.9"/>
<line x1="479" y1="348.5" x2="485.6" y2="348.5" stroke="#161616" stroke-width="0.9"/>
<line x1="479" y1="397.5" x2="485.6" y2="397.5" stroke="#161616" stroke-width="0.9"/>
<line x1="392.5" y1="192" x2="392.5" y2="284" stroke="#161616" stroke-width="0.7"/>
<line x1="488.5" y1="192" x2="488.5" y2="296" stroke="#161616" stroke-width="0.7"/>
<line x1="392.6" y1="193.5" x2="488.1" y2="193.5" stroke="#161616" stroke-width="0.7"/>
<path d="M392.6 193.9L399.6 192.9L399.6 194.9Z" fill="#161616" stroke="#161616" stroke-width="0.4"/>
<path d="M488.1 193.9L481.1 194.9L481.1 192.9Z" fill="#161616" stroke="#161616" stroke-width="0.4"/>
<text x="432.2" y="191.7" font-family="'Liberation Sans', 'Noto Sans CJK SC', sans-serif" font-size="9.6" text-anchor="start" fill="#3c3c3c" textLength="19.5" lengthAdjust="spacingAndGlyphs">21.5</text>
<line x1="412.5" y1="218.3" x2="412.5" y2="354" stroke="#161616" stroke-width="0.7"/>
<line x1="468.5" y1="218.3" x2="468.5" y2="397.5" stroke="#161616" stroke-width="0.7"/>
<line x1="412" y1="220.5" x2="523.7" y2="220.5" stroke="#161616" stroke-width="0.7"/>
<path d="M412 220.5L419 219.5L419 221.5Z" fill="#161616" stroke="#161616" stroke-width="0.4"/>
<path d="M468.7 220.5L461.7 221.5L461.7 219.5Z" fill="#161616" stroke="#161616" stroke-width="0.4"/>
<path d="M468.7 220.5L475.7 219.5L475.7 221.5Z" fill="#161616" stroke="#161616" stroke-width="0.4"/>
<path d="M488.1 220.5L481.1 221.5L481.1 219.5Z" fill="#161616" stroke="#161616" stroke-width="0.4"/>
<text x="432.6" y="218.4" font-family="'Liberation Sans', 'Noto Sans CJK SC', sans-serif" font-size="9.6" text-anchor="start" fill="#3c3c3c" textLength="19.5" lengthAdjust="spacingAndGlyphs">12.8</text>
<text x="500.6" y="218.4" font-family="'Liberation Sans', 'Noto Sans CJK SC', sans-serif" font-size="9.6" text-anchor="start" fill="#3c3c3c" textLength="19.8" lengthAdjust="spacingAndGlyphs">4.35</text>
<line x1="414.5" y1="244.3" x2="414.5" y2="397" stroke="#161616" stroke-width="0.7"/>
<line x1="466.5" y1="244.3" x2="466.5" y2="354" stroke="#161616" stroke-width="0.7"/>
<line x1="414.2" y1="246.5" x2="466.8" y2="246.5" stroke="#161616" stroke-width="0.7"/>
<path d="M414.2 246.3L421.2 245.3L421.2 247.3Z" fill="#161616" stroke="#161616" stroke-width="0.4"/>
<path d="M466.8 246.3L459.8 247.3L459.8 245.3Z" fill="#161616" stroke="#161616" stroke-width="0.4"/>
<text x="432.6" y="244.2" font-family="'Liberation Sans', 'Noto Sans CJK SC', sans-serif" font-size="9.6" text-anchor="start" fill="#3c3c3c" textLength="19.5" lengthAdjust="spacingAndGlyphs">11.8</text>
<line x1="480.5" y1="323.5" x2="520.8" y2="323.5" stroke="#161616" stroke-width="0.7"/>
<line x1="488.5" y1="320.9" x2="488.5" y2="332.4" stroke="#161616" stroke-width="0.7"/>
<path d="M480.3 323.4L486.8 322.4L486.8 324.4Z" fill="#161616" stroke="#161616" stroke-width="0.4"/>
<line x1="468.7" y1="323.5" x2="479.6" y2="323.5" stroke="#161616" stroke-width="1.3"/>
<text x="503.5" y="321.2" font-family="'Liberation Sans', 'Noto Sans CJK SC', sans-serif" font-size="9.6" text-anchor="start" fill="#3c3c3c" textLength="13.2" lengthAdjust="spacingAndGlyphs">4.4</text>
<line x1="370.3" y1="359.5" x2="400" y2="359.5" stroke="#161616" stroke-width="0.7"/>
<line x1="370.3" y1="385.5" x2="400" y2="385.5" stroke="#161616" stroke-width="0.7"/>
<line x1="371.5" y1="345.4" x2="371.5" y2="359.5" stroke="#161616" stroke-width="0.7"/>
<line x1="371.5" y1="385.9" x2="371.5" y2="400.5" stroke="#161616" stroke-width="0.7"/>
<path d="M371.1 359.5L370.1 352.5L372.1 352.5Z" fill="#161616" stroke="#161616" stroke-width="0.4"/>
<path d="M371.1 385.9L372.1 392.9L370.1 392.9Z" fill="#161616" stroke="#161616" stroke-width="0.4"/>
<text x="358" y="368.4" font-family="'Liberation Sans', 'Noto Sans CJK SC', sans-serif" font-size="10" text-anchor="start" fill="#3c3c3c" textLength="25.6" lengthAdjust="spacingAndGlyphs" transform="rotate(-90 358 368.4)">+0.05</text>
<text x="369.4" y="362.7" font-family="'Liberation Sans', 'Noto Sans CJK SC', sans-serif" font-size="10" text-anchor="start" fill="#3c3c3c" transform="rotate(-90 369.4 362.7)">0</text>
<text x="369.4" y="386.5" font-family="'Liberation Sans', 'Noto Sans CJK SC', sans-serif" font-size="10" text-anchor="start" fill="#3c3c3c" textLength="15.5" lengthAdjust="spacingAndGlyphs" transform="rotate(-90 369.4 386.5)">Ø6</text>
<path d="M1074.8 305.3C1072.2 313 1071 325 1071.2 335C1071.5 348 1074 361.5 1081.6 362.9" fill="none" stroke="#161616" stroke-width="1.05"/>
<path d="M1081.5 312.5L1090.5 312.5L1090.5 338.5L1081.5 338.5Z" fill="#fff" stroke="#161616" stroke-width="0.85"/>
<path clip-path="url(#c33)" d="M1080.5 305.5L1091.5 316.5M1080.5 315.5L1091.5 326.5M1080.5 325.5L1091.5 336.5M1080.5 335.5L1091.5 346.5" fill="none" stroke="#161616" stroke-width="0.92"/>
<path d="M1081.5 312.5L1090.5 312.5L1090.5 338.5L1081.5 338.5Z" fill="none" stroke="#161616" stroke-width="0.85"/>
<path d="M1090.5 312.5L1099.5 312.5L1099.5 338.5L1090.5 338.5Z" fill="#fff" stroke="#161616" stroke-width="0.85"/>
<path clip-path="url(#c34)" d="M1089.5 316.5L1100.5 305.5M1089.5 326.5L1100.5 315.5M1089.5 336.5L1100.5 325.5M1089.5 346.5L1100.5 335.5" fill="none" stroke="#161616" stroke-width="0.92"/>
<path d="M1090.5 312.5L1099.5 312.5L1099.5 338.5L1090.5 338.5Z" fill="none" stroke="#161616" stroke-width="0.85"/>
<path d="M1099.5 312.5L1108.5 312.5L1108.5 338.5L1099.5 338.5Z" fill="#fff" stroke="#161616" stroke-width="0.85"/>
<path clip-path="url(#c35)" d="M1098.5 305.5L1109.5 316.5M1098.5 315.5L1109.5 326.5M1098.5 325.5L1109.5 336.5M1098.5 335.5L1109.5 346.5" fill="none" stroke="#161616" stroke-width="0.92"/>
<path d="M1099.5 312.5L1108.5 312.5L1108.5 338.5L1099.5 338.5Z" fill="none" stroke="#161616" stroke-width="0.85"/>
<path d="M1074.6 306.4C1074.8 311.1 1078 314.6 1082.1 314.6L1108 314.6C1112 314.6 1115.3 311.1 1115.6 306.4" fill="none" stroke="#161616" stroke-width="1.15"/>
<path d="M1076.4 304.1C1077 308.5 1079 312.2 1081.9 312.2L1108 312.2C1111 312.2 1113.1 308.5 1113.7 304.1" fill="none" stroke="#161616" stroke-width="1.1"/>
<path d="M1115.6 306.4C1117 314.5 1118.3 323.5 1118.6 333.4" fill="none" stroke="#161616" stroke-width="0.95"/>
<path d="M1071.25 287.5A23.55 23.55 0 1 0 1118.35 287.5A23.55 23.55 0 1 0 1071.25 287.5Z" fill="#fff" stroke="#161616" stroke-width="1.0"/>
<path clip-path="url(#c36)" d="M1070.25 271.75L1119.35 222.65M1070.25 281.75L1119.35 232.65M1070.25 291.75L1119.35 242.65M1070.25 301.75L1119.35 252.65M1070.25 311.75L1119.35 262.65M1070.25 321.75L1119.35 272.65M1070.25 331.75L1119.35 282.65M1070.25 341.75L1119.35 292.65M1070.25 351.75L1119.35 302.65" fill="none" stroke="#161616" stroke-width="0.92"/>
<path d="M1071.25 287.5A23.55 23.55 0 1 0 1118.35 287.5A23.55 23.55 0 1 0 1071.25 287.5Z" fill="none" stroke="#161616" stroke-width="1.0"/>
<circle cx="1095.1" cy="287.7" r="8.9" fill="#fff" stroke="#333" stroke-width="0.55"/>
<circle cx="1095.1" cy="287.7" r="7.5" fill="none" stroke="#111" stroke-width="1.5" stroke-dasharray="1.5 2.427"/>
<circle cx="1095.1" cy="287.7" r="6.1" fill="none" stroke="#555" stroke-width="0.5"/>
<circle cx="1095.1" cy="287.7" r="4.9" fill="#fff" stroke="#161616" stroke-width="1.15"/>
<circle cx="1095.1" cy="287.7" r="3.7" fill="none" stroke="#161616" stroke-width="0.9"/>
<line x1="1092.7" y1="290.1" x2="1097.5" y2="285.3" stroke="#161616" stroke-width="0.8"/>
<path d="M1074.8 446.1C1072.2 438.4 1071 426.4 1071.2 416.4C1071.5 403.4 1074 389.9 1081.6 388.5" fill="none" stroke="#161616" stroke-width="1.05"/>
<path d="M1081.5 413.5L1090.5 413.5L1090.5 439.5L1081.5 439.5Z" fill="#fff" stroke="#161616" stroke-width="0.85"/>
<path clip-path="url(#c37)" d="M1080.5 406.5L1091.5 417.5M1080.5 416.5L1091.5 427.5M1080.5 426.5L1091.5 437.5M1080.5 436.5L1091.5 447.5" fill="none" stroke="#161616" stroke-width="0.92"/>
<path d="M1081.5 413.5L1090.5 413.5L1090.5 439.5L1081.5 439.5Z" fill="none" stroke="#161616" stroke-width="0.85"/>
<path d="M1090.5 413.5L1099.5 413.5L1099.5 439.5L1090.5 439.5Z" fill="#fff" stroke="#161616" stroke-width="0.85"/>
<path clip-path="url(#c38)" d="M1089.5 417.5L1100.5 406.5M1089.5 427.5L1100.5 416.5M1089.5 437.5L1100.5 426.5M1089.5 447.5L1100.5 436.5" fill="none" stroke="#161616" stroke-width="0.92"/>
<path d="M1090.5 413.5L1099.5 413.5L1099.5 439.5L1090.5 439.5Z" fill="none" stroke="#161616" stroke-width="0.85"/>
<path d="M1099.5 413.5L1108.5 413.5L1108.5 439.5L1099.5 439.5Z" fill="#fff" stroke="#161616" stroke-width="0.85"/>
<path clip-path="url(#c39)" d="M1098.5 406.5L1109.5 417.5M1098.5 416.5L1109.5 427.5M1098.5 426.5L1109.5 437.5M1098.5 436.5L1109.5 447.5" fill="none" stroke="#161616" stroke-width="0.92"/>
<path d="M1099.5 413.5L1108.5 413.5L1108.5 439.5L1099.5 439.5Z" fill="none" stroke="#161616" stroke-width="0.85"/>
<path d="M1074.6 445C1074.8 440.3 1078 436.8 1082.1 436.8L1108 436.8C1112 436.8 1115.3 440.3 1115.6 445" fill="none" stroke="#161616" stroke-width="1.15"/>
<path d="M1076.4 447.3C1077 442.9 1079 439.2 1081.9 439.2L1108 439.2C1111 439.2 1113.1 442.9 1113.7 447.3" fill="none" stroke="#161616" stroke-width="1.1"/>
<path d="M1115.6 445C1117 436.9 1118.3 427.9 1118.6 418" fill="none" stroke="#161616" stroke-width="0.95"/>
<path d="M1071.25 463.9A23.55 23.55 0 1 0 1118.35 463.9A23.55 23.55 0 1 0 1071.25 463.9Z" fill="#fff" stroke="#161616" stroke-width="1.0"/>
<path clip-path="url(#c40)" d="M1070.25 448.75L1119.35 399.65M1070.25 458.75L1119.35 409.65M1070.25 468.75L1119.35 419.65M1070.25 478.75L1119.35 429.65M1070.25 488.75L1119.35 439.65M1070.25 498.75L1119.35 449.65M1070.25 508.75L1119.35 459.65M1070.25 518.75L1119.35 469.65M1070.25 528.75L1119.35 479.65" fill="none" stroke="#161616" stroke-width="0.92"/>
<path d="M1071.25 463.9A23.55 23.55 0 1 0 1118.35 463.9A23.55 23.55 0 1 0 1071.25 463.9Z" fill="none" stroke="#161616" stroke-width="1.0"/>
<circle cx="1095.1" cy="464.1" r="8.9" fill="#fff" stroke="#333" stroke-width="0.55"/>
<circle cx="1095.1" cy="464.1" r="7.5" fill="none" stroke="#111" stroke-width="1.5" stroke-dasharray="1.5 2.427"/>
<circle cx="1095.1" cy="464.1" r="6.1" fill="none" stroke="#555" stroke-width="0.5"/>
<circle cx="1095.1" cy="464.1" r="4.9" fill="#fff" stroke="#161616" stroke-width="1.15"/>
<circle cx="1095.1" cy="464.1" r="3.7" fill="none" stroke="#161616" stroke-width="0.9"/>
<line x1="1092.7" y1="466.5" x2="1097.5" y2="461.7" stroke="#161616" stroke-width="0.8"/>
<path d="M1127.54 325.5C1127.3 325.25 1126.77 324.75 1126.1 324C1125.43 323.25 1124.32 322.23 1123.5 321C1122.68 319.77 1121.9 318.77 1121.2 316.6C1120.5 314.43 1119.7 310.6 1119.3 308C1118.9 305.4 1118.87 303.17 1118.8 301C1118.73 298.83 1118.78 297 1118.9 295C1119.02 293 1119.12 291 1119.5 289C1119.88 287 1120.6 284.67 1121.2 283C1121.8 281.33 1122.43 280.17 1123.1 279C1123.77 277.83 1124.33 277 1125.2 276C1126.07 275 1127.15 273.92 1128.3 273C1129.45 272.08 1130.78 271.18 1132.1 270.5C1133.42 269.82 1134.43 269.32 1136.2 268.9C1137.97 268.48 1140.5 268 1142.7 268C1144.9 268 1147.6 268.48 1149.4 268.9C1151.2 269.32 1152.18 269.82 1153.5 270.5C1154.82 271.18 1156.15 272.08 1157.3 273C1158.45 273.92 1159.53 275 1160.4 276C1161.27 277 1161.83 277.83 1162.5 279C1163.17 280.17 1163.8 281.33 1164.4 283C1165 284.67 1165.72 287 1166.1 289C1166.48 291 1166.58 293 1166.7 295C1166.82 297 1166.87 298.83 1166.8 301C1166.73 303.17 1166.7 305.4 1166.3 308C1165.9 310.6 1165.1 314.43 1164.4 316.6C1163.7 318.77 1162.92 319.77 1162.1 321C1161.28 322.23 1160.17 323.25 1159.5 324C1158.83 324.75 1158.3 325.25 1158.06 325.5" fill="none" stroke="#161616" stroke-width="1.0"/>
<path d="M1122.5 283C1122.9 282.2 1123.75 279.75 1124.9 278.2C1126.05 276.65 1127.57 274.92 1129.4 273.7C1131.23 272.48 1133.78 271.52 1135.9 270.9C1138.02 270.28 1140.02 270.03 1142.1 270C1144.18 269.97 1146.38 270.05 1148.4 270.7C1150.42 271.35 1152.53 272.57 1154.2 273.9C1155.87 275.23 1157.37 276.98 1158.4 278.7C1159.43 280.42 1160.13 282.37 1160.4 284.2C1160.67 286.03 1160.47 288.03 1160 289.7C1159.53 291.37 1158.27 293.05 1157.6 294.2C1156.93 295.35 1156.27 296.2 1156 296.6" fill="none" stroke="#161616" stroke-width="0.95"/>
<path d="M1129.5 277.5L1138.5 277.5L1138.5 282.5L1129.5 282.5Z" fill="#fff" stroke="#161616" stroke-width="0.85"/>
<path clip-path="url(#c41)" d="M1128.5 270.5L1139.5 281.5M1128.5 280.5L1139.5 291.5" fill="none" stroke="#161616" stroke-width="0.92"/>
<path d="M1129.5 277.5L1138.5 277.5L1138.5 282.5L1129.5 282.5Z" fill="none" stroke="#161616" stroke-width="0.85"/>
<path d="M1138.5 277.5L1147.5 277.5L1147.5 282.5L1138.5 282.5Z" fill="#fff" stroke="#161616" stroke-width="0.85"/>
<path clip-path="url(#c42)" d="M1137.5 281.5L1148.5 270.5M1137.5 291.5L1148.5 280.5" fill="none" stroke="#161616" stroke-width="0.92"/>
<path d="M1138.5 277.5L1147.5 277.5L1147.5 282.5L1138.5 282.5Z" fill="none" stroke="#161616" stroke-width="0.85"/>
<path d="M1147.5 277.5L1155.5 277.5L1155.5 282.5L1147.5 282.5Z" fill="#fff" stroke="#161616" stroke-width="0.85"/>
<path clip-path="url(#c43)" d="M1146.5 270.5L1156.5 280.5M1146.5 280.5L1156.5 290.5" fill="none" stroke="#161616" stroke-width="0.92"/>
<path d="M1147.5 277.5L1155.5 277.5L1155.5 282.5L1147.5 282.5Z" fill="none" stroke="#161616" stroke-width="0.85"/>
<path d="M1129.1 277.2C1131.7 273 1137.7 271.4 1142.4 271.4C1147.7 271.4 1153.2 273 1155.9 277.2" fill="none" stroke="#161616" stroke-width="0.9"/>
<line x1="1131.2" y1="272.5" x2="1153.7" y2="272.5" stroke="#161616" stroke-width="0.85"/>
<line x1="1138.5" y1="271.8" x2="1138.5" y2="277.2" stroke="#161616" stroke-width="0.95"/>
<line x1="1147.5" y1="271.8" x2="1147.5" y2="277.2" stroke="#161616" stroke-width="0.95"/>
<path d="M1134.4 283.2L1159.9 283.2L1160.4 284.8L1160 289.7L1157.9 293.8L1134.4 293.8Z" fill="#fff" stroke="#161616" stroke-width="0.9"/>
<path clip-path="url(#c44)" d="M1133.4 285.6L1161.4 257.6M1133.4 295.6L1161.4 267.6M1133.4 305.6L1161.4 277.6M1133.4 315.6L1161.4 287.6" fill="none" stroke="#161616" stroke-width="0.92"/>
<path d="M1134.4 283.2L1159.9 283.2L1160.4 284.8L1160 289.7L1157.9 293.8L1134.4 293.8Z" fill="none" stroke="#161616" stroke-width="0.9"/>
<path d="M1120.5 284.5L1132.5 284.5L1134.5 286.5L1134.5 290.5L1132.5 293.5L1120.5 293.5Z" fill="#fff" stroke="#161616" stroke-width="0.95"/>
<line x1="1120.8" y1="283.5" x2="1159.7" y2="283.5" stroke="#161616" stroke-width="1.05"/>
<line x1="1120.8" y1="293.5" x2="1158.1" y2="293.5" stroke="#161616" stroke-width="1.05"/>
<line x1="1120.5" y1="283.2" x2="1120.5" y2="293.8" stroke="#161616" stroke-width="0.9"/>
<path d="M1125.23 428.4C1124.94 428.73 1124.17 429.33 1123.5 430.4C1122.83 431.47 1121.9 432.63 1121.2 434.8C1120.5 436.97 1119.7 440.8 1119.3 443.4C1118.9 446 1118.87 448.23 1118.8 450.4C1118.73 452.57 1118.78 454.4 1118.9 456.4C1119.02 458.4 1119.12 460.4 1119.5 462.4C1119.88 464.4 1120.6 466.73 1121.2 468.4C1121.8 470.07 1122.43 471.23 1123.1 472.4C1123.77 473.57 1124.33 474.4 1125.2 475.4C1126.07 476.4 1127.15 477.48 1128.3 478.4C1129.45 479.32 1130.78 480.22 1132.1 480.9C1133.42 481.58 1134.43 482.08 1136.2 482.5C1137.97 482.92 1140.5 483.4 1142.7 483.4C1144.9 483.4 1147.6 482.92 1149.4 482.5C1151.2 482.08 1152.18 481.58 1153.5 480.9C1154.82 480.22 1156.15 479.32 1157.3 478.4C1158.45 477.48 1159.53 476.4 1160.4 475.4C1161.27 474.4 1161.83 473.57 1162.5 472.4C1163.17 471.23 1163.8 470.07 1164.4 468.4C1165 466.73 1165.72 464.4 1166.1 462.4C1166.48 460.4 1166.58 458.4 1166.7 456.4C1166.82 454.4 1166.87 452.57 1166.8 450.4C1166.73 448.23 1166.7 446 1166.3 443.4C1165.9 440.8 1165.1 436.97 1164.4 434.8C1163.7 432.63 1162.77 431.47 1162.1 430.4C1161.43 429.33 1160.66 428.73 1160.37 428.4" fill="none" stroke="#161616" stroke-width="1.0"/>
<path d="M1122.5 468.4C1122.9 469.2 1123.75 471.65 1124.9 473.2C1126.05 474.75 1127.57 476.48 1129.4 477.7C1131.23 478.92 1133.78 479.88 1135.9 480.5C1138.02 481.12 1140.02 481.37 1142.1 481.4C1144.18 481.43 1146.38 481.35 1148.4 480.7C1150.42 480.05 1152.53 478.83 1154.2 477.5C1155.87 476.17 1157.37 474.42 1158.4 472.7C1159.43 470.98 1160.13 469.03 1160.4 467.2C1160.67 465.37 1160.47 463.37 1160 461.7C1159.53 460.03 1158.27 458.35 1157.6 457.2C1156.93 456.05 1156.27 455.2 1156 454.8" fill="none" stroke="#161616" stroke-width="0.95"/>
<path d="M1129.5 468.5L1138.5 468.5L1138.5 474.5L1129.5 474.5Z" fill="#fff" stroke="#161616" stroke-width="0.85"/>
<path clip-path="url(#c45)" d="M1128.5 461.5L1139.5 472.5M1128.5 471.5L1139.5 482.5" fill="none" stroke="#161616" stroke-width="0.92"/>
<path d="M1129.5 468.5L1138.5 468.5L1138.5 474.5L1129.5 474.5Z" fill="none" stroke="#161616" stroke-width="0.85"/>
<path d="M1138.5 468.5L1147.5 468.5L1147.5 474.5L1138.5 474.5Z" fill="#fff" stroke="#161616" stroke-width="0.85"/>
<path clip-path="url(#c46)" d="M1137.5 472.5L1148.5 461.5M1137.5 482.5L1148.5 471.5" fill="none" stroke="#161616" stroke-width="0.92"/>
<path d="M1138.5 468.5L1147.5 468.5L1147.5 474.5L1138.5 474.5Z" fill="none" stroke="#161616" stroke-width="0.85"/>
<path d="M1147.5 468.5L1155.5 468.5L1155.5 474.5L1147.5 474.5Z" fill="#fff" stroke="#161616" stroke-width="0.85"/>
<path clip-path="url(#c47)" d="M1146.5 461.5L1156.5 471.5M1146.5 471.5L1156.5 481.5" fill="none" stroke="#161616" stroke-width="0.92"/>
<path d="M1147.5 468.5L1155.5 468.5L1155.5 474.5L1147.5 474.5Z" fill="none" stroke="#161616" stroke-width="0.85"/>
<path d="M1129.1 474.2C1131.7 478.4 1137.7 480 1142.4 480C1147.7 480 1153.2 478.4 1155.9 474.2" fill="none" stroke="#161616" stroke-width="0.9"/>
<line x1="1131.2" y1="478.5" x2="1153.7" y2="478.5" stroke="#161616" stroke-width="0.85"/>
<line x1="1138.5" y1="479.6" x2="1138.5" y2="474.2" stroke="#161616" stroke-width="0.95"/>
<line x1="1147.5" y1="479.6" x2="1147.5" y2="474.2" stroke="#161616" stroke-width="0.95"/>
<path d="M1134.4 468.2L1159.9 468.2L1160.4 466.6L1160 461.7L1157.9 457.6L1134.4 457.6Z" fill="#fff" stroke="#161616" stroke-width="0.9"/>
<path clip-path="url(#c48)" d="M1133.4 459.6L1161.4 431.6M1133.4 469.6L1161.4 441.6M1133.4 479.6L1161.4 451.6M1133.4 489.6L1161.4 461.6" fill="none" stroke="#161616" stroke-width="0.92"/>
<path d="M1134.4 468.2L1159.9 468.2L1160.4 466.6L1160 461.7L1157.9 457.6L1134.4 457.6Z" fill="none" stroke="#161616" stroke-width="0.9"/>
<path d="M1120.5 458.5L1132.5 458.5L1134.5 461.5L1134.5 464.5L1132.5 467.5L1120.5 467.5Z" fill="#fff" stroke="#161616" stroke-width="0.95"/>
<line x1="1120.8" y1="457.5" x2="1159.7" y2="457.5" stroke="#161616" stroke-width="1.05"/>
<line x1="1120.8" y1="468.5" x2="1158.1" y2="468.5" stroke="#161616" stroke-width="1.05"/>
<line x1="1120.5" y1="457.6" x2="1120.5" y2="468.2" stroke="#161616" stroke-width="0.9"/>
<path d="M1086.5 362.5L1086.5 338.5L1108.5 338.5L1108.5 314.5L1128.5 314.5L1128.5 336.5L1155.5 336.5L1160.5 340.5L1187.5 340.5L1187.5 362.5Z" fill="#fff" stroke="#161616" stroke-width="0.9"/>
<path clip-path="url(#c49)" d="M1085.5 314.5L1188.5 211.5M1085.5 319.5L1188.5 216.5M1085.5 324.5L1188.5 221.5M1085.5 329.5L1188.5 226.5M1085.5 334.5L1188.5 231.5M1085.5 339.5L1188.5 236.5M1085.5 344.5L1188.5 241.5M1085.5 349.5L1188.5 246.5M1085.5 354.5L1188.5 251.5M1085.5 359.5L1188.5 256.5M1085.5 364.5L1188.5 261.5M1085.5 369.5L1188.5 266.5M1085.5 374.5L1188.5 271.5M1085.5 379.5L1188.5 276.5M1085.5 384.5L1188.5 281.5M1085.5 389.5L1188.5 286.5M1085.5 394.5L1188.5 291.5M1085.5 399.5L1188.5 296.5M1085.5 404.5L1188.5 301.5M1085.5 409.5L1188.5 306.5M1085.5 414.5L1188.5 311.5M1085.5 419.5L1188.5 316.5M1085.5 424.5L1188.5 321.5M1085.5 429.5L1188.5 326.5M1085.5 434.5L1188.5 331.5M1085.5 439.5L1188.5 336.5M1085.5 444.5L1188.5 341.5M1085.5 449.5L1188.5 346.5M1085.5 454.5L1188.5 351.5M1085.5 459.5L1188.5 356.5M1085.5 464.5L1188.5 361.5" fill="none" stroke="#161616" stroke-width="0.92"/>
<path d="M1086.5 362.5L1086.5 338.5L1108.5 338.5L1108.5 314.5L1128.5 314.5L1128.5 336.5L1155.5 336.5L1160.5 340.5L1187.5 340.5L1187.5 362.5Z" fill="none" stroke="#161616" stroke-width="0.9"/>
<path d="M1086.5 388.5L1086.5 413.5L1108.5 413.5L1108.5 437.5L1128.5 437.5L1128.5 410.5L1187.5 410.5L1187.5 388.5Z" fill="#fff" stroke="#161616" stroke-width="0.9"/>
<path clip-path="url(#c50)" d="M1085.5 389.5L1188.5 286.5M1085.5 394.5L1188.5 291.5M1085.5 399.5L1188.5 296.5M1085.5 404.5L1188.5 301.5M1085.5 409.5L1188.5 306.5M1085.5 414.5L1188.5 311.5M1085.5 419.5L1188.5 316.5M1085.5 424.5L1188.5 321.5M1085.5 429.5L1188.5 326.5M1085.5 434.5L1188.5 331.5M1085.5 439.5L1188.5 336.5M1085.5 444.5L1188.5 341.5M1085.5 449.5L1188.5 346.5M1085.5 454.5L1188.5 351.5M1085.5 459.5L1188.5 356.5M1085.5 464.5L1188.5 361.5M1085.5 469.5L1188.5 366.5M1085.5 474.5L1188.5 371.5M1085.5 479.5L1188.5 376.5M1085.5 484.5L1188.5 381.5M1085.5 489.5L1188.5 386.5M1085.5 494.5L1188.5 391.5M1085.5 499.5L1188.5 396.5M1085.5 504.5L1188.5 401.5M1085.5 509.5L1188.5 406.5M1085.5 514.5L1188.5 411.5M1085.5 519.5L1188.5 416.5M1085.5 524.5L1188.5 421.5M1085.5 529.5L1188.5 426.5M1085.5 534.5L1188.5 431.5M1085.5 539.5L1188.5 436.5" fill="none" stroke="#161616" stroke-width="0.92"/>
<path d="M1086.5 388.5L1086.5 413.5L1108.5 413.5L1108.5 437.5L1128.5 437.5L1128.5 410.5L1187.5 410.5L1187.5 388.5Z" fill="none" stroke="#161616" stroke-width="0.9"/>
<line x1="1082.5" y1="338.2" x2="1082.5" y2="413.2" stroke="#161616" stroke-width="0.8"/>
<line x1="1086.5" y1="362.9" x2="1086.5" y2="388.5" stroke="#161616" stroke-width="0.8"/>
<line x1="1187.5" y1="362.9" x2="1187.5" y2="388.5" stroke="#161616" stroke-width="1.2"/>
<path d="M1160.6 340.6L1160.6 362.0Q1160.8 363.6 1164 364.6Q1169.8 366.8 1175.6 364.6Q1178.8 363.6 1179 362.0L1179 340.6Z" fill="#fff" stroke="#161616" stroke-width="0.9"/>
<line x1="1170.5" y1="328.4" x2="1170.5" y2="366.5" stroke="#161616" stroke-width="0.6" stroke-dasharray="7 1.5 1.5 1.5"/>
<line x1="1086" y1="402.5" x2="1222.4" y2="402.5" stroke="#161616" stroke-width="0.7"/>
<path d="M1129.5 293.5L1137.5 293.5L1137.5 336.5L1129.5 336.5Z" fill="#fff" stroke="#161616" stroke-width="0.85"/>
<path clip-path="url(#c51)" d="M1128.5 287.5L1138.5 297.5M1128.5 297.5L1138.5 307.5M1128.5 307.5L1138.5 317.5M1128.5 317.5L1138.5 327.5M1128.5 327.5L1138.5 337.5" fill="none" stroke="#161616" stroke-width="0.92"/>
<path d="M1129.5 293.5L1137.5 293.5L1137.5 336.5L1129.5 336.5Z" fill="none" stroke="#161616" stroke-width="0.85"/>
<path d="M1137.5 293.5L1146.5 293.5L1146.5 336.5L1137.5 336.5Z" fill="#fff" stroke="#161616" stroke-width="0.85"/>
<path clip-path="url(#c52)" d="M1136.5 297.5L1147.5 286.5M1136.5 307.5L1147.5 296.5M1136.5 317.5L1147.5 306.5M1136.5 327.5L1147.5 316.5M1136.5 337.5L1147.5 326.5M1136.5 347.5L1147.5 336.5" fill="none" stroke="#161616" stroke-width="0.92"/>
<path d="M1137.5 293.5L1146.5 293.5L1146.5 336.5L1137.5 336.5Z" fill="none" stroke="#161616" stroke-width="0.85"/>
<path d="M1146.5 293.5L1155.5 293.5L1155.5 336.5L1146.5 336.5Z" fill="#fff" stroke="#161616" stroke-width="0.85"/>
<path clip-path="url(#c53)" d="M1145.5 286.5L1156.5 297.5M1145.5 296.5L1156.5 307.5M1145.5 306.5L1156.5 317.5M1145.5 316.5L1156.5 327.5M1145.5 326.5L1156.5 337.5M1145.5 336.5L1156.5 347.5" fill="none" stroke="#161616" stroke-width="0.92"/>
<path d="M1146.5 293.5L1155.5 293.5L1155.5 336.5L1146.5 336.5Z" fill="none" stroke="#161616" stroke-width="0.85"/>
<path d="M1155.5 333.5L1158.5 333.5L1158.5 337.5L1166.5 338.5L1166.5 340.5" fill="none" stroke="#161616" stroke-width="0.8"/>
<path d="M1129.5 432.5L1137.5 432.5L1137.5 457.5L1129.5 457.5Z" fill="#fff" stroke="#161616" stroke-width="0.85"/>
<path clip-path="url(#c54)" d="M1128.5 426.5L1138.5 436.5M1128.5 436.5L1138.5 446.5M1128.5 446.5L1138.5 456.5M1128.5 456.5L1138.5 466.5" fill="none" stroke="#161616" stroke-width="0.92"/>
<path d="M1129.5 432.5L1137.5 432.5L1137.5 457.5L1129.5 457.5Z" fill="none" stroke="#161616" stroke-width="0.85"/>
<path d="M1137.5 432.5L1146.5 432.5L1146.5 457.5L1137.5 457.5Z" fill="#fff" stroke="#161616" stroke-width="0.85"/>
<path clip-path="url(#c55)" d="M1136.5 436.5L1147.5 425.5M1136.5 446.5L1147.5 435.5M1136.5 456.5L1147.5 445.5M1136.5 466.5L1147.5 455.5" fill="none" stroke="#161616" stroke-width="0.92"/>
<path d="M1137.5 432.5L1146.5 432.5L1146.5 457.5L1137.5 457.5Z" fill="none" stroke="#161616" stroke-width="0.85"/>
<path d="M1146.5 432.5L1155.5 432.5L1155.5 457.5L1146.5 457.5Z" fill="#fff" stroke="#161616" stroke-width="0.85"/>
<path clip-path="url(#c56)" d="M1145.5 425.5L1156.5 436.5M1145.5 435.5L1156.5 446.5M1145.5 445.5L1156.5 456.5M1145.5 455.5L1156.5 466.5" fill="none" stroke="#161616" stroke-width="0.92"/>
<path d="M1146.5 432.5L1155.5 432.5L1155.5 457.5L1146.5 457.5Z" fill="none" stroke="#161616" stroke-width="0.85"/>
<path d="M1129.5 413.5L1137.5 413.5L1137.5 420.5L1129.5 420.5Z" fill="#fff" stroke="#161616" stroke-width="0.85"/>
<path clip-path="url(#c57)" d="M1128.5 407.5L1138.5 417.5M1128.5 417.5L1138.5 427.5" fill="none" stroke="#161616" stroke-width="0.92"/>
<path d="M1129.5 413.5L1137.5 413.5L1137.5 420.5L1129.5 420.5Z" fill="none" stroke="#161616" stroke-width="0.85"/>
<path d="M1137.5 413.5L1146.5 413.5L1146.5 420.5L1137.5 420.5Z" fill="#fff" stroke="#161616" stroke-width="0.85"/>
<path clip-path="url(#c58)" d="M1136.5 417.5L1147.5 406.5M1136.5 427.5L1147.5 416.5" fill="none" stroke="#161616" stroke-width="0.92"/>
<path d="M1137.5 413.5L1146.5 413.5L1146.5 420.5L1137.5 420.5Z" fill="none" stroke="#161616" stroke-width="0.85"/>
<path d="M1146.5 413.5L1158.5 413.5L1158.5 420.5L1146.5 420.5Z" fill="#fff" stroke="#161616" stroke-width="0.85"/>
<path clip-path="url(#c59)" d="M1145.5 406.5L1159.5 420.5M1145.5 416.5L1159.5 430.5" fill="none" stroke="#161616" stroke-width="0.92"/>
<path d="M1146.5 413.5L1158.5 413.5L1158.5 420.5L1146.5 420.5Z" fill="none" stroke="#161616" stroke-width="0.85"/>
<path d="M1114.5 420.5L1158.5 420.5L1158.5 414.5L1168.5 414.5L1168.5 437.5L1158.5 437.5L1158.5 432.5L1114.5 432.5Z" fill="#fff" stroke="#161616" stroke-width="0.95"/>
<path clip-path="url(#c60)" d="M1113.5 420.5L1169.5 364.5M1113.5 429.5L1169.5 373.5M1113.5 448.5L1169.5 392.5M1113.5 457.5L1169.5 401.5M1113.5 476.5L1169.5 420.5M1113.5 485.5L1169.5 429.5" fill="none" stroke="#161616" stroke-width="0.92"/>
<path d="M1114.5 420.5L1158.5 420.5L1158.5 414.5L1168.5 414.5L1168.5 437.5L1158.5 437.5L1158.5 432.5L1114.5 432.5Z" fill="none" stroke="#161616" stroke-width="0.95"/>
<rect x="1164.5" y="423.5" width="4" height="5" fill="#fff" stroke="#161616" stroke-width="0.8"/>
<line x1="1129.2" y1="420.5" x2="1158.7" y2="420.5" stroke="#000" stroke-width="1.3"/>
<line x1="1129.2" y1="432.5" x2="1158.7" y2="432.5" stroke="#000" stroke-width="1.3"/>
<path d="M1079.5 364.5L1069.5 364.5L1069.5 387.5L1079.5 387.5" fill="none" stroke="#161616" stroke-width="0.9"/>
<path d="M1079.4 364.2C1080.6 370 1080.6 381 1079.4 387.4" fill="none" stroke="#161616" stroke-width="0.8"/>
<rect x="1069.5" y="373.5" width="2" height="3" fill="none" stroke="#161616" stroke-width="0.7"/>
<line x1="1077.5" y1="364.2" x2="1077.5" y2="369" stroke="#161616" stroke-width="0.8"/>
<line x1="1071.5" y1="225.9" x2="1071.5" y2="283" stroke="#161616" stroke-width="0.7"/>
<line x1="1166.5" y1="225.9" x2="1166.5" y2="340" stroke="#161616" stroke-width="0.7"/>
<line x1="1071.1" y1="227.5" x2="1166.2" y2="227.5" stroke="#161616" stroke-width="0.7"/>
<path d="M1071.1 227.8L1078.1 226.8L1078.1 228.8Z" fill="#161616" stroke="#161616" stroke-width="0.4"/>
<path d="M1166.2 227.8L1159.2 228.8L1159.2 226.8Z" fill="#161616" stroke="#161616" stroke-width="0.4"/>
<text x="1111.4" y="225.6" font-family="'Liberation Sans', 'Noto Sans CJK SC', sans-serif" font-size="10" text-anchor="start" fill="#3c3c3c" textLength="19" lengthAdjust="spacingAndGlyphs">21.5</text>
<line x1="1152.2" y1="256.5" x2="1222.8" y2="256.5" stroke="#161616" stroke-width="0.7"/>
<path d="M1166.2 256.4L1159.2 257.4L1159.2 255.4Z" fill="#161616" stroke="#161616" stroke-width="0.4"/>
<path d="M1187.3 256.4L1194.3 255.4L1194.3 257.4Z" fill="#161616" stroke="#161616" stroke-width="0.4"/>
<line x1="1187.5" y1="254.4" x2="1187.5" y2="341" stroke="#161616" stroke-width="0.7"/>
<text x="1200" y="254.6" font-family="'Liberation Sans', 'Noto Sans CJK SC', sans-serif" font-size="10" text-anchor="start" fill="#3c3c3c" textLength="18.8" lengthAdjust="spacingAndGlyphs">4.85</text>
<line x1="1197.9" y1="295.5" x2="1273.5" y2="295.5" stroke="#161616" stroke-width="0.7"/>
<line x1="1197.9" y1="295.5" x2="1173.7" y2="350.9" stroke="#161616" stroke-width="0.7"/>
<circle cx="1173.7" cy="350.9" r="0.9" fill="#161616" stroke="#161616" stroke-width="0.3"/>
<text y="293.6" fill="#3c3c3c"><tspan x="1198.6" font-family="'Liberation Sans', 'Noto Sans CJK SC', sans-serif" font-size="9.4" textLength="31.7" lengthAdjust="spacingAndGlyphs">2-M(a)</tspan><tspan x="1232.2" y="293.9" font-family="'Liberation Serif', 'Noto Serif CJK SC', serif" font-size="9.2">互成</tspan><tspan x="1251.9" y="293.6" font-family="'Liberation Sans', 'Noto Sans CJK SC', sans-serif" font-size="9.6" textLength="21.3" lengthAdjust="spacingAndGlyphs">120°</tspan></text>
<line x1="1161.5" y1="328.5" x2="1218.7" y2="328.5" stroke="#161616" stroke-width="0.7"/>
<path d="M1169.6 328.8L1162.6 329.8L1162.6 327.8Z" fill="#161616" stroke="#161616" stroke-width="0.4"/>
<path d="M1187.4 328.8L1194.4 327.8L1194.4 329.8Z" fill="#161616" stroke="#161616" stroke-width="0.4"/>
<line x1="1169.5" y1="326.6" x2="1169.5" y2="344.4" stroke="#161616" stroke-width="0.7"/>
<text x="1211.2" y="325.6" font-family="'Liberation Sans', 'Noto Sans CJK SC', sans-serif" font-size="10" text-anchor="start" fill="#3c3c3c">4</text>
<line x1="1187.2" y1="340.5" x2="1238.4" y2="340.5" stroke="#161616" stroke-width="0.7"/>
<line x1="1187.2" y1="410.5" x2="1238.4" y2="410.5" stroke="#161616" stroke-width="0.7"/>
<line x1="1235.5" y1="340.6" x2="1235.5" y2="410.9" stroke="#161616" stroke-width="0.7"/>
<path d="M1235.9 340.6L1236.9 347.6L1234.9 347.6Z" fill="#161616" stroke="#161616" stroke-width="0.4"/>
<path d="M1235.9 410.9L1234.9 403.9L1236.9 403.9Z" fill="#161616" stroke="#161616" stroke-width="0.4"/>
<text x="1233.7" y="385.8" font-family="'Liberation Sans', 'Noto Sans CJK SC', sans-serif" font-size="10" text-anchor="start" fill="#3c3c3c" textLength="20.8" lengthAdjust="spacingAndGlyphs" transform="rotate(-90 1233.7 385.8)">Ø16</text>
<path d="M1187.2 402.1L1180.2 403.1L1180.2 401.1Z" fill="#161616" stroke="#161616" stroke-width="0.4"/>
<path d="M1086 402.1L1093 401.1L1093 403.1Z" fill="#161616" stroke="#161616" stroke-width="0.4"/>
<text x="1207.5" y="399.7" font-family="'Liberation Sans', 'Noto Sans CJK SC', sans-serif" font-size="10" text-anchor="start" fill="#3c3c3c" textLength="11.2" lengthAdjust="spacingAndGlyphs">23</text>
<line x1="1046" y1="362.5" x2="1085" y2="362.5" stroke="#161616" stroke-width="0.7"/>
<line x1="1046" y1="389.5" x2="1085" y2="389.5" stroke="#161616" stroke-width="0.7"/>
<line x1="1047.5" y1="349.3" x2="1047.5" y2="362.9" stroke="#161616" stroke-width="0.7"/>
<line x1="1047.5" y1="389" x2="1047.5" y2="401.7" stroke="#161616" stroke-width="0.7"/>
<path d="M1047.1 362.9L1046.1 355.9L1048.1 355.9Z" fill="#161616" stroke="#161616" stroke-width="0.4"/>
<path d="M1047.1 389L1048.1 396L1046.1 396Z" fill="#161616" stroke="#161616" stroke-width="0.4"/>
<text x="1044.6" y="383.8" font-family="'Liberation Sans', 'Noto Sans CJK SC', sans-serif" font-size="10" text-anchor="start" fill="#3c3c3c" textLength="15.4" lengthAdjust="spacingAndGlyphs" transform="rotate(-90 1044.6 383.8)">ØH</text>
<text y="516.9" fill="#3c3c3c"><tspan x="1099.8" font-family="'Liberation Serif', 'Noto Serif CJK SC', serif" font-size="9.6" fill="#555">剖面</tspan><tspan x="1120.5" font-family="'Liberation Sans', 'Noto Sans CJK SC', sans-serif" font-size="9"> </tspan><tspan x="1123.1" font-family="'Liberation Sans', 'Noto Sans CJK SC', sans-serif" font-size="9" textLength="18" lengthAdjust="spacingAndGlyphs" fill="#3a3a3a">A-A</tspan></text>
<circle cx="711.5" cy="372.2" r="112" fill="none" stroke="#161616" stroke-width="0.95"/>
<g id="rl711">
<line x1="681.5" y1="264.29" x2="681.5" y2="302.4" stroke="#161616" stroke-width="1.05"/>
<line x1="683.5" y1="263.81" x2="683.5" y2="303.6" stroke="#161616" stroke-width="1.05"/>
<line x1="741.5" y1="264.29" x2="741.5" y2="302.4" stroke="#161616" stroke-width="1.05"/>
<line x1="739.5" y1="263.81" x2="739.5" y2="303.6" stroke="#161616" stroke-width="1.05"/>
<path d="M683.3 303.6Q711.5 314.4 739.7 303.6" fill="none" stroke="#161616" stroke-width="1.05"/>
<path d="M679.5 275.6L679.5 302.2Q679.5 306.6 683.7 306.6Q711.5 316.9 739.3 306.6Q743.5 306.6 743.5 302.2L743.5 275.6" fill="none" stroke="#161616" stroke-width="1.05"/>
<path d="M681.5 302.4Q681.5 305.6 684.1 305.8Q689.05 307.18 694 308.05" fill="none" stroke="#161616" stroke-width="0.85"/>
<path d="M741.5 302.4Q741.5 305.6 738.9 305.8Q733.95 307.18 729 308.05" fill="none" stroke="#161616" stroke-width="0.85"/>
<line x1="681.5" y1="277.5" x2="679.5" y2="277.5" stroke="#161616" stroke-width="0.7"/>
<line x1="681.5" y1="290.5" x2="679.5" y2="290.5" stroke="#161616" stroke-width="0.7"/>
<line x1="741.5" y1="277.5" x2="743.5" y2="277.5" stroke="#161616" stroke-width="0.7"/>
<line x1="741.5" y1="290.5" x2="743.5" y2="290.5" stroke="#161616" stroke-width="0.7"/>
<line x1="690.7" y1="306.34" x2="692.7" y2="309.14" stroke="#161616" stroke-width="0.7"/>
<line x1="695.7" y1="307.51" x2="697.7" y2="310.29" stroke="#161616" stroke-width="0.7"/>
<line x1="727.9" y1="307.39" x2="725.9" y2="310.17" stroke="#161616" stroke-width="0.7"/>
<line x1="732.9" y1="306.17" x2="730.9" y2="308.98" stroke="#161616" stroke-width="0.7"/>
</g>
<use href="#rl711" transform="rotate(60 711.5 372.2)"/>
<use href="#rl711" transform="rotate(120 711.5 372.2)"/>
<use href="#rl711" transform="rotate(180 711.5 372.2)"/>
<use href="#rl711" transform="rotate(240 711.5 372.2)"/>
<use href="#rl711" transform="rotate(300 711.5 372.2)"/>
<g id="pk711">
<circle cx="799.3" cy="372.2" r="11.4" fill="none" stroke="#161616" stroke-width="1.05"/>
<path d="M810.52 370.2C810.5 366.4 814.2 365 814.9 360.2L814.9 353.45Q814.9 349.45 811.26 351.55" fill="none" stroke="#161616" stroke-width="1.05"/>
<path d="M810.52 374.2C810.5 378 814.2 379.4 814.9 384.2L814.9 390.95Q814.9 394.95 811.26 392.85" fill="none" stroke="#161616" stroke-width="1.05"/>
</g>
<use href="#pk711" transform="rotate(60 711.5 372.2)"/>
<use href="#pk711" transform="rotate(120 711.5 372.2)"/>
<use href="#pk711" transform="rotate(180 711.5 372.2)"/>
<use href="#pk711" transform="rotate(240 711.5 372.2)"/>
<use href="#pk711" transform="rotate(300 711.5 372.2)"/>
<circle cx="711.5" cy="372.2" r="46.2" fill="none" stroke="#161616" stroke-width="1.05"/>
<circle cx="711.5" cy="372.2" r="28.7" fill="none" stroke="#161616" stroke-width="0.75"/>
<path d="M706.13 341.77A30.9 30.9 0 0 0 680.9 367.9" fill="none" stroke="#161616" stroke-width="0.7" stroke-dasharray="9 2 2 2"/>
<circle cx="711.5" cy="341.3" r="11" fill="#fff" stroke="#000" stroke-width="1.9"/>
<line x1="701.67" y1="344.71" x2="719.83" y2="335.06" stroke="#161616" stroke-width="1.0"/>
<line x1="703.17" y1="347.54" x2="721.33" y2="337.89" stroke="#161616" stroke-width="1.0"/>
<circle cx="680.6" cy="372.2" r="11" fill="#fff" stroke="#000" stroke-width="1.9"/>
<line x1="676.84" y1="362.49" x2="687.13" y2="380.31" stroke="#161616" stroke-width="1.0"/>
<line x1="674.07" y1="364.09" x2="684.36" y2="381.91" stroke="#161616" stroke-width="1.0"/>
<circle cx="742.4" cy="372.2" r="11" fill="#fff" stroke="#000" stroke-width="1.9"/>
<line x1="738.64" y1="362.49" x2="748.93" y2="380.31" stroke="#161616" stroke-width="1.0"/>
<line x1="735.87" y1="364.09" x2="746.16" y2="381.91" stroke="#161616" stroke-width="1.0"/>
<circle cx="711.5" cy="403.1" r="11" fill="#fff" stroke="#000" stroke-width="1.9"/>
<line x1="701.67" y1="406.51" x2="719.83" y2="396.86" stroke="#161616" stroke-width="1.0"/>
<line x1="703.17" y1="409.34" x2="721.33" y2="399.69" stroke="#161616" stroke-width="1.0"/>
<circle cx="711.5" cy="372.2" r="17.4" fill="none" stroke="#161616" stroke-width="0.8"/>
<circle cx="711.5" cy="372.2" r="14.1" fill="none" stroke="#4a4a4a" stroke-width="1.4"/>
<circle cx="711.5" cy="372.2" r="12.4" fill="none" stroke="#555" stroke-width="1.4"/>
<line x1="787" y1="211.5" x2="823.9" y2="211.5" stroke="#161616" stroke-width="0.8"/>
<line x1="787" y1="211.9" x2="755.3" y2="269" stroke="#161616" stroke-width="0.8"/>
<path d="M755.3 269L757.58 262.83L759.33 263.8Z" fill="#161616" stroke="#161616" stroke-width="0.4"/>
<text y="209.9" fill="#3c3c3c"><tspan x="789.6" font-family="'Liberation Sans', 'Noto Sans CJK SC', sans-serif" font-size="11.5" textLength="8.6" lengthAdjust="spacingAndGlyphs">Ø</tspan><tspan x="801.8" font-family="'Liberation Sans', 'Noto Sans CJK SC', sans-serif" font-size="10.6" textLength="21.4" lengthAdjust="spacingAndGlyphs">50.8</tspan></text>
<line x1="842.9" y1="276.5" x2="886.1" y2="276.5" stroke="#161616" stroke-width="0.8"/>
<line x1="842.9" y1="276.7" x2="717.5" y2="337.6" stroke="#161616" stroke-width="0.8"/>
<circle cx="717.5" cy="337.6" r="0.9" fill="#161616" stroke="#161616" stroke-width="0.3"/>
<text x="844.4" y="274.7" font-family="'Liberation Sans', 'Noto Sans CJK SC', sans-serif" font-size="9" text-anchor="start" fill="#3c3c3c" textLength="41.3" lengthAdjust="spacingAndGlyphs">4-M3×18</text>
<line x1="681.01" y1="378.09" x2="880.2" y2="345.47" stroke="#161616" stroke-width="0.75"/>
<path d="M741.99 368.11L748.25 366.07L748.57 368.04Z" fill="#161616" stroke="#161616" stroke-width="0.4"/>
<text x="855.2" y="346.56" font-family="'Liberation Sans', 'Noto Sans CJK SC', sans-serif" font-size="9.6" text-anchor="start" fill="#3c3c3c" textLength="20.6" lengthAdjust="spacingAndGlyphs" transform="rotate(-9.3 855.2 346.56)">Ø14</text>
<line x1="666.81" y1="361.29" x2="878.1" y2="416.65" stroke="#161616" stroke-width="0.75"/>
<path d="M756.19 384.71L762.73 385.39L762.23 387.32Z" fill="#161616" stroke="#161616" stroke-width="0.4"/>
<text x="855.6" y="407.75" font-family="'Liberation Sans', 'Noto Sans CJK SC', sans-serif" font-size="9.6" text-anchor="start" fill="#3c3c3c" textLength="20.6" lengthAdjust="spacingAndGlyphs" transform="rotate(14.68 855.6 407.75)">Ø21</text>
<line x1="689.3" y1="219.5" x2="711.7" y2="219.5" stroke="#161616" stroke-width="0.8"/>
<line x1="711.5" y1="218.9" x2="711.5" y2="233.1" stroke="#161616" stroke-width="0.8"/>
<path d="M683.3 219.3L697.5 217L697.5 221.6Z" fill="#fff" stroke="#161616" stroke-width="0.8"/>
<path d="M683.3 219.3L690.3 218.3L690.3 220.3Z" fill="#161616" stroke="none"/>
<text x="724.8" y="220.7" font-family="'Liberation Sans', 'Noto Sans CJK SC', sans-serif" font-size="9" text-anchor="start" fill="#3c3c3c" textLength="7" lengthAdjust="spacingAndGlyphs">A</text>
<line x1="689.3" y1="523.5" x2="711.7" y2="523.5" stroke="#161616" stroke-width="0.8"/>
<line x1="711.5" y1="523.8" x2="711.5" y2="509.3" stroke="#161616" stroke-width="0.8"/>
<path d="M683.3 523.4L697.5 521.1L697.5 525.7Z" fill="#fff" stroke="#161616" stroke-width="0.8"/>
<path d="M683.3 523.4L690.3 522.4L690.3 524.4Z" fill="#161616" stroke="none"/>
<text x="724.8" y="524.7" font-family="'Liberation Sans', 'Noto Sans CJK SC', sans-serif" font-size="9" text-anchor="start" fill="#3c3c3c" textLength="7" lengthAdjust="spacingAndGlyphs">A</text>
<circle cx="1416.7" cy="375.9" r="112" fill="none" stroke="#161616" stroke-width="0.95"/>
<g id="rl1416">
<line x1="1386.5" y1="267.99" x2="1386.5" y2="306.1" stroke="#161616" stroke-width="1.05"/>
<line x1="1388.5" y1="267.51" x2="1388.5" y2="307.3" stroke="#161616" stroke-width="1.05"/>
<line x1="1446.5" y1="267.99" x2="1446.5" y2="306.1" stroke="#161616" stroke-width="1.05"/>
<line x1="1444.5" y1="267.51" x2="1444.5" y2="307.3" stroke="#161616" stroke-width="1.05"/>
<path d="M1388.5 307.3Q1416.7 318.1 1444.9 307.3" fill="none" stroke="#161616" stroke-width="1.05"/>
<path d="M1384.7 279.3L1384.7 305.9Q1384.7 310.3 1388.9 310.3Q1416.7 320.6 1444.5 310.3Q1448.7 310.3 1448.7 305.9L1448.7 279.3" fill="none" stroke="#161616" stroke-width="1.05"/>
<path d="M1386.7 306.1Q1386.7 309.3 1389.3 309.5Q1394.25 310.88 1399.2 311.75" fill="none" stroke="#161616" stroke-width="0.85"/>
<path d="M1446.7 306.1Q1446.7 309.3 1444.1 309.5Q1439.15 310.88 1434.2 311.75" fill="none" stroke="#161616" stroke-width="0.85"/>
<line x1="1386.7" y1="280.5" x2="1384.7" y2="280.5" stroke="#161616" stroke-width="0.7"/>
<line x1="1386.7" y1="294.5" x2="1384.7" y2="294.5" stroke="#161616" stroke-width="0.7"/>
<line x1="1446.7" y1="280.5" x2="1448.7" y2="280.5" stroke="#161616" stroke-width="0.7"/>
<line x1="1446.7" y1="294.5" x2="1448.7" y2="294.5" stroke="#161616" stroke-width="0.7"/>
<line x1="1395.9" y1="310.04" x2="1397.9" y2="312.84" stroke="#161616" stroke-width="0.7"/>
<line x1="1400.9" y1="311.21" x2="1402.9" y2="313.99" stroke="#161616" stroke-width="0.7"/>
<line x1="1433.1" y1="311.09" x2="1431.1" y2="313.87" stroke="#161616" stroke-width="0.7"/>
<line x1="1438.1" y1="309.87" x2="1436.1" y2="312.68" stroke="#161616" stroke-width="0.7"/>
</g>
<use href="#rl1416" transform="rotate(60 1416.7 375.9)"/>
<use href="#rl1416" transform="rotate(120 1416.7 375.9)"/>
<use href="#rl1416" transform="rotate(180 1416.7 375.9)"/>
<use href="#rl1416" transform="rotate(240 1416.7 375.9)"/>
<use href="#rl1416" transform="rotate(300 1416.7 375.9)"/>
<g id="pk1416">
<circle cx="1504.5" cy="375.9" r="11.4" fill="none" stroke="#161616" stroke-width="1.05"/>
<path d="M1515.72 373.9C1515.7 370.1 1519.4 368.7 1520.1 363.9L1520.1 357.15Q1520.1 353.15 1516.46 355.25" fill="none" stroke="#161616" stroke-width="1.05"/>
<path d="M1515.72 377.9C1515.7 381.7 1519.4 383.1 1520.1 387.9L1520.1 394.65Q1520.1 398.65 1516.46 396.55" fill="none" stroke="#161616" stroke-width="1.05"/>
</g>
<use href="#pk1416" transform="rotate(60 1416.7 375.9)"/>
<use href="#pk1416" transform="rotate(120 1416.7 375.9)"/>
<use href="#pk1416" transform="rotate(180 1416.7 375.9)"/>
<use href="#pk1416" transform="rotate(240 1416.7 375.9)"/>
<use href="#pk1416" transform="rotate(300 1416.7 375.9)"/>
<circle cx="1416.7" cy="375.9" r="61.6" fill="none" stroke="#161616" stroke-width="0.6"/>
<circle cx="1416.7" cy="375.9" r="61" fill="none" stroke="#1a1a1a" stroke-width="1.9" stroke-dasharray="1.35 1.2"/>
<circle cx="1416.7" cy="375.9" r="38.4" fill="none" stroke="#161616" stroke-width="0.85"/>
<circle cx="1416.7" cy="375.9" r="36.4" fill="none" stroke="#161616" stroke-width="0.85"/>
<circle cx="1416.7" cy="375.9" r="34.6" fill="none" stroke="#1a1a1a" stroke-width="1.8" stroke-dasharray="1.25 1.0"/>
<circle cx="1416.7" cy="375.9" r="33" fill="none" stroke="#555" stroke-width="0.6" stroke-dasharray="1.3 1.2"/>
<circle cx="1416.7" cy="375.9" r="14.9" fill="none" stroke="#333" stroke-width="1.2"/>
<circle cx="1416.7" cy="375.9" r="13.6" fill="none" stroke="#444" stroke-width="1.2"/>
<circle cx="1460.17" cy="350.8" r="5.9" fill="none" stroke="#161616" stroke-width="0.85"/>
<circle cx="1373.23" cy="350.8" r="5.9" fill="none" stroke="#161616" stroke-width="0.85"/>
<circle cx="1416.7" cy="426.1" r="5.9" fill="none" stroke="#161616" stroke-width="0.85"/>
<circle cx="1441.85" cy="332.34" r="11.2" fill="#fff" stroke="#000" stroke-width="1.9"/>
<circle cx="1441.85" cy="332.34" r="5.3" fill="none" stroke="#161616" stroke-width="0.9"/>
<line x1="1435.06" y1="340.49" x2="1445.52" y2="322.39" stroke="#161616" stroke-width="0.95"/>
<line x1="1438.18" y1="342.29" x2="1448.64" y2="324.19" stroke="#161616" stroke-width="0.95"/>
<circle cx="1366.4" cy="375.9" r="11.2" fill="#fff" stroke="#000" stroke-width="1.9"/>
<circle cx="1366.4" cy="375.9" r="5.3" fill="none" stroke="#161616" stroke-width="0.9"/>
<line x1="1376.85" y1="377.5" x2="1355.95" y2="377.5" stroke="#161616" stroke-width="0.95"/>
<line x1="1376.85" y1="374.5" x2="1355.95" y2="374.5" stroke="#161616" stroke-width="0.95"/>
<circle cx="1441.85" cy="419.46" r="11.2" fill="#fff" stroke="#000" stroke-width="1.9"/>
<circle cx="1441.85" cy="419.46" r="5.3" fill="none" stroke="#161616" stroke-width="0.9"/>
<line x1="1438.18" y1="409.51" x2="1448.64" y2="427.61" stroke="#161616" stroke-width="0.95"/>
<line x1="1435.06" y1="411.31" x2="1445.52" y2="429.41" stroke="#161616" stroke-width="0.95"/>
<line x1="1407.5" y1="364.09" x2="1407.5" y2="341.4" stroke="#161616" stroke-width="0.7" stroke-dasharray="3 1.6"/>
<line x1="1426.5" y1="364.09" x2="1426.5" y2="341.4" stroke="#161616" stroke-width="0.7" stroke-dasharray="3 1.6"/>
<line x1="1416.5" y1="361.9" x2="1416.5" y2="338.9" stroke="#161616" stroke-width="0.6" stroke-dasharray="6 1.5 1.5 1.5"/>
<line x1="1431.78" y1="373.4" x2="1451.43" y2="384.75" stroke="#161616" stroke-width="0.7" stroke-dasharray="3 1.6"/>
<line x1="1422.08" y1="390.21" x2="1441.73" y2="401.55" stroke="#161616" stroke-width="0.7" stroke-dasharray="3 1.6"/>
<line x1="1428.82" y1="382.9" x2="1448.74" y2="394.4" stroke="#161616" stroke-width="0.6" stroke-dasharray="6 1.5 1.5 1.5"/>
<line x1="1416.5" y1="232.9" x2="1416.5" y2="375.9" stroke="#161616" stroke-width="0.75"/>
<line x1="1416.7" y1="375.9" x2="1534.05" y2="443.65" stroke="#161616" stroke-width="0.75"/>
<path d="M1416.9 243.6A132.3 132.3 0 0 1 1531.28 442.05" fill="none" stroke="#161616" stroke-width="0.75"/>
<path d="M1416.9 243.6L1423.92 242.78L1423.87 244.78Z" fill="#161616" stroke="#161616" stroke-width="0.4"/>
<path d="M1531.28 442.05L1533.74 435.42L1535.49 436.38Z" fill="#161616" stroke="#161616" stroke-width="0.4"/>
<text x="1535.87" y="307.1" font-family="'Liberation Sans', 'Noto Sans CJK SC', sans-serif" font-size="9.6" text-anchor="middle" fill="#3c3c3c" textLength="20.5" lengthAdjust="spacingAndGlyphs" transform="rotate(60 1535.87 307.1)">120°</text>
<line x1="1495.4" y1="230.5" x2="1532.1" y2="230.5" stroke="#161616" stroke-width="0.8"/>
<line x1="1495.4" y1="230.7" x2="1469.1" y2="277.1" stroke="#161616" stroke-width="0.8"/>
<path d="M1469.1 277.1L1471.44 270.95L1473.18 271.94Z" fill="#161616" stroke="#161616" stroke-width="0.4"/>
<text y="228.8" fill="#3c3c3c"><tspan x="1498.2" font-family="'Liberation Sans', 'Noto Sans CJK SC', sans-serif" font-size="11.5" textLength="8.2" lengthAdjust="spacingAndGlyphs">Ø</tspan><tspan x="1509.5" font-family="'Liberation Sans', 'Noto Sans CJK SC', sans-serif" font-size="10.6" textLength="21.6" lengthAdjust="spacingAndGlyphs">50.8</tspan></text>
<line x1="1394.5" y1="232.5" x2="1416.9" y2="232.5" stroke="#161616" stroke-width="0.8"/>
<path d="M1388.5 232.9L1402.7 230.6L1402.7 235.2Z" fill="#fff" stroke="#161616" stroke-width="0.8"/>
<path d="M1388.5 232.9L1395.5 231.9L1395.5 233.9Z" fill="#161616" stroke="none"/>
<text x="1430" y="234.6" font-family="'Liberation Sans', 'Noto Sans CJK SC', sans-serif" font-size="9" text-anchor="start" fill="#3c3c3c" textLength="7" lengthAdjust="spacingAndGlyphs">A</text>
<line x1="1394.5" y1="516.5" x2="1416.9" y2="516.5" stroke="#161616" stroke-width="0.8"/>
<line x1="1416.5" y1="516.7" x2="1416.5" y2="502.2" stroke="#161616" stroke-width="0.8"/>
<path d="M1388.5 516.3L1402.7 514L1402.7 518.6Z" fill="#fff" stroke="#161616" stroke-width="0.8"/>
<path d="M1388.5 516.3L1395.5 515.3L1395.5 517.3Z" fill="#161616" stroke="none"/>
<text x="1430" y="518.3" font-family="'Liberation Sans', 'Noto Sans CJK SC', sans-serif" font-size="9" text-anchor="start" fill="#3c3c3c" textLength="7" lengthAdjust="spacingAndGlyphs">A</text>
<text x="555.9" y="618" font-family="'Liberation Sans', 'Noto Sans CJK SC', sans-serif" font-size="22" text-anchor="start" fill="#333" font-weight="bold" textLength="74.2" lengthAdjust="spacingAndGlyphs">QL-05A</text>
<text x="1263.3" y="618" font-family="'Liberation Sans', 'Noto Sans CJK SC', sans-serif" font-size="22" text-anchor="start" fill="#333" font-weight="bold" textLength="72.6" lengthAdjust="spacingAndGlyphs">QL-05B</text>
<text y="517.6" fill="#3c3c3c"><tspan x="420.6" font-family="'Liberation Serif', 'Noto Serif CJK SC', serif" font-size="9.6" fill="#555">剖面</tspan><tspan x="441.4" font-family="'Liberation Sans', 'Noto Sans CJK SC', sans-serif" font-size="9"> </tspan><tspan x="444" font-family="'Liberation Sans', 'Noto Sans CJK SC', sans-serif" font-size="9" textLength="18" lengthAdjust="spacingAndGlyphs" fill="#3a3a3a">A-A</tspan></text>
</svg>
</body></html>
